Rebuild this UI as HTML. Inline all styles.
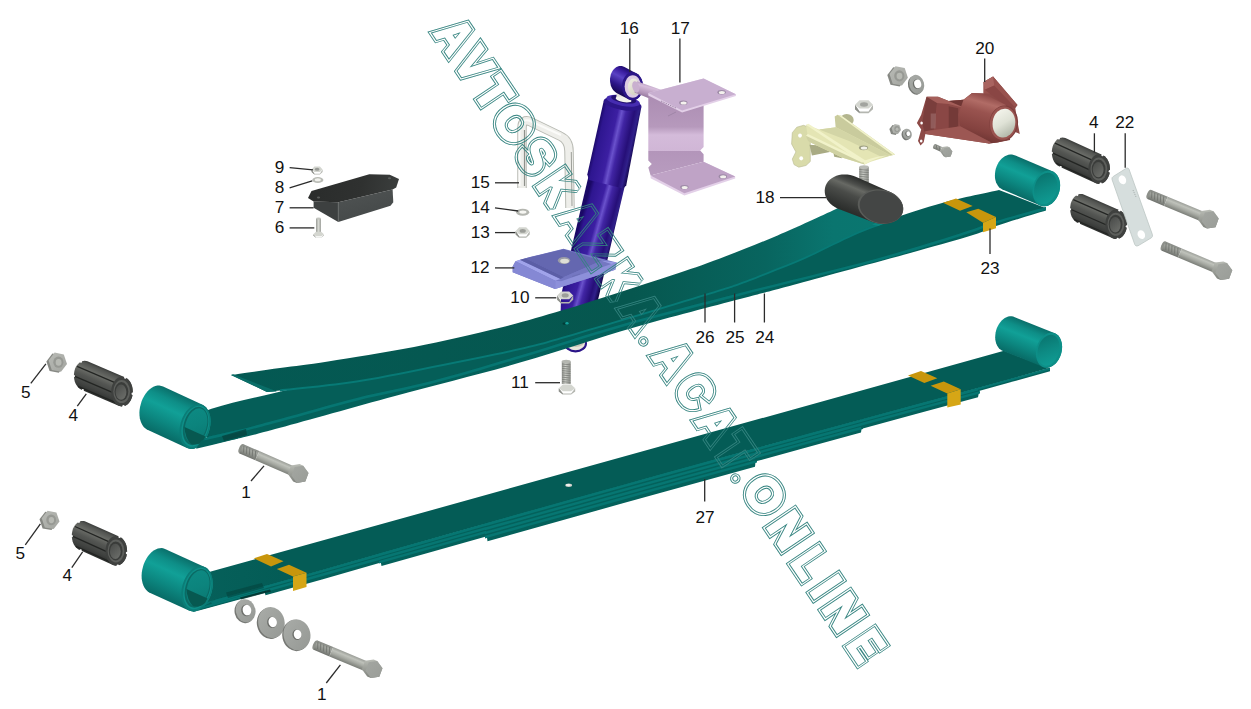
<!DOCTYPE html>
<html><head><meta charset="utf-8"><title>diagram</title>
<style>
html,body{margin:0;padding:0;background:#fff;}
body{width:1251px;height:709px;overflow:hidden;font-family:"Liberation Sans",sans-serif;}
svg{display:block;}
svg text{font-family:"Liberation Sans",sans-serif;fill:#111;}
</style></head><body>
<svg width="1251" height="709" viewBox="0 0 1251 709">
<defs>
<linearGradient id="g1" gradientUnits="userSpaceOnUse" x1="200" y1="0" x2="1050" y2="0"><stop offset="0" stop-color="#06605a"/><stop offset="0.1" stop-color="#045c56"/><stop offset="1" stop-color="#045c56"/></linearGradient>
<linearGradient id="g2" gradientUnits="userSpaceOnUse" x1="186.8" y1="558.7" x2="167.6" y2="600.9"><stop offset="0" stop-color="#0a6f6a"/><stop offset="0.2" stop-color="#0e8e87"/><stop offset="0.4" stop-color="#11a097"/><stop offset="0.7" stop-color="#0c8780"/><stop offset="1" stop-color="#086b66"/></linearGradient>
<linearGradient id="g3" gradientUnits="userSpaceOnUse" x1="185" y1="570" x2="209" y2="605"><stop offset="0" stop-color="#0d8b84"/><stop offset="0.5" stop-color="#0c847d"/><stop offset="1" stop-color="#0a7670"/></linearGradient>
<linearGradient id="g4" gradientUnits="userSpaceOnUse" x1="1035.3" y1="325.4" x2="1022" y2="358.6"><stop offset="0" stop-color="#0a6f6a"/><stop offset="0.2" stop-color="#0e8e87"/><stop offset="0.4" stop-color="#11a097"/><stop offset="0.7" stop-color="#0c8780"/><stop offset="1" stop-color="#086b66"/></linearGradient>
<linearGradient id="g5" gradientUnits="userSpaceOnUse" x1="1037" y1="335" x2="1060" y2="365"><stop offset="0" stop-color="#08706a"/><stop offset="0.5" stop-color="#0d8a83"/><stop offset="1" stop-color="#10a198"/></linearGradient>
<linearGradient id="g6" gradientUnits="userSpaceOnUse" x1="582" y1="215" x2="618" y2="225"><stop offset="0" stop-color="#1a0866"/><stop offset="0.1" stop-color="#2e1690"/><stop offset="0.4" stop-color="#3c1fa2"/><stop offset="0.5" stop-color="#6a52cc"/><stop offset="0.6" stop-color="#4125a4"/><stop offset="0.8" stop-color="#260f78"/><stop offset="0.9" stop-color="#30208a"/><stop offset="1" stop-color="#12054a"/></linearGradient>
<linearGradient id="g7" gradientUnits="userSpaceOnUse" x1="594.5" y1="140" x2="634.5" y2="149"><stop offset="0" stop-color="#1a0866"/><stop offset="0.1" stop-color="#2e1690"/><stop offset="0.4" stop-color="#3c1fa2"/><stop offset="0.5" stop-color="#6a52cc"/><stop offset="0.6" stop-color="#4125a4"/><stop offset="0.8" stop-color="#260f78"/><stop offset="0.9" stop-color="#30208a"/><stop offset="1" stop-color="#12054a"/></linearGradient>
<linearGradient id="g8" gradientUnits="userSpaceOnUse" x1="633" y1="70.8" x2="620" y2="95.5"><stop offset="0" stop-color="#1a0866"/><stop offset="0.2" stop-color="#3c1fa2"/><stop offset="0.4" stop-color="#5a42c4"/><stop offset="0.7" stop-color="#2c1688"/><stop offset="1" stop-color="#14064e"/></linearGradient>
<linearGradient id="g9" gradientUnits="userSpaceOnUse" x1="628" y1="78" x2="640" y2="96"><stop offset="0" stop-color="#f2f1e6"/><stop offset="1" stop-color="#cfcdbd"/></linearGradient>
<linearGradient id="g10" gradientUnits="userSpaceOnUse" x1="647" y1="82" x2="643" y2="97"><stop offset="0" stop-color="#a98cb2"/><stop offset="0.3" stop-color="#d6bedb"/><stop offset="0.7" stop-color="#b598bb"/><stop offset="1" stop-color="#93779b"/></linearGradient>
<linearGradient id="g11" gradientUnits="userSpaceOnUse" x1="0" y1="94" x2="0" y2="176"><stop offset="0" stop-color="#ab8cb2"/><stop offset="0.4" stop-color="#b699bc"/><stop offset="0.5" stop-color="#d4bbda"/><stop offset="0.7" stop-color="#d0b6d6"/><stop offset="0.7" stop-color="#b395ba"/><stop offset="1" stop-color="#b89cbf"/></linearGradient>
<linearGradient id="g12" gradientUnits="userSpaceOnUse" x1="231" y1="0" x2="900" y2="0"><stop offset="0" stop-color="#045953"/><stop offset="0.6" stop-color="#06574f"/><stop offset="0.8" stop-color="#08655f"/><stop offset="0.9" stop-color="#0a756f"/><stop offset="1" stop-color="#0a7770"/></linearGradient>
<linearGradient id="g13" gradientUnits="userSpaceOnUse" x1="184.7" y1="396.4" x2="165.3" y2="438.1"><stop offset="0" stop-color="#0a6f6a"/><stop offset="0.2" stop-color="#0e8e87"/><stop offset="0.4" stop-color="#11a097"/><stop offset="0.7" stop-color="#0c8780"/><stop offset="1" stop-color="#086b66"/></linearGradient>
<linearGradient id="g14" gradientUnits="userSpaceOnUse" x1="183" y1="408" x2="207" y2="443"><stop offset="0" stop-color="#0d8b84"/><stop offset="0.5" stop-color="#0c847d"/><stop offset="1" stop-color="#0a7670"/></linearGradient>
<linearGradient id="g15" gradientUnits="userSpaceOnUse" x1="1034.6" y1="163.7" x2="1020.4" y2="197.1"><stop offset="0" stop-color="#0a6f6a"/><stop offset="0.2" stop-color="#0e8e87"/><stop offset="0.4" stop-color="#11a097"/><stop offset="0.7" stop-color="#0c8780"/><stop offset="1" stop-color="#086b66"/></linearGradient>
<linearGradient id="g16" gradientUnits="userSpaceOnUse" x1="1034" y1="174" x2="1058" y2="204"><stop offset="0" stop-color="#08706a"/><stop offset="0.5" stop-color="#0d8a83"/><stop offset="1" stop-color="#10a198"/></linearGradient>
<linearGradient id="g17" gradientUnits="userSpaceOnUse" x1="338" y1="200" x2="345" y2="225"><stop offset="0" stop-color="#4d5151"/><stop offset="1" stop-color="#454949"/></linearGradient>
<linearGradient id="g18" gradientUnits="userSpaceOnUse" x1="310" y1="180" x2="395" y2="195"><stop offset="0" stop-color="#2a2c2b"/><stop offset="0.6" stop-color="#2f3130"/><stop offset="1" stop-color="#3a3d3c"/></linearGradient>
<linearGradient id="g19" gradientUnits="userSpaceOnUse" x1="316" y1="0" x2="321" y2="0"><stop offset="0" stop-color="#9a9c97"/><stop offset="0.5" stop-color="#d6d8d2"/><stop offset="1" stop-color="#a0a29d"/></linearGradient>
<linearGradient id="g20" gradientUnits="userSpaceOnUse" x1="47.6" y1="352" x2="68" y2="372.4"><stop offset="0" stop-color="#b9bbb6"/><stop offset="1" stop-color="#a2a49f"/></linearGradient>
<linearGradient id="g21" gradientUnits="userSpaceOnUse" x1="109.2" y1="370" x2="97.5" y2="397.2"><stop offset="0" stop-color="#343634"/><stop offset="0.1" stop-color="#525451"/><stop offset="0.3" stop-color="#6c6e69"/><stop offset="0.5" stop-color="#535552"/><stop offset="0.8" stop-color="#404240"/><stop offset="1" stop-color="#2c2e2c"/></linearGradient>
<linearGradient id="g22" gradientUnits="userSpaceOnUse" x1="116" y1="385.6" x2="128" y2="397.6"><stop offset="0" stop-color="#4a4c4a"/><stop offset="1" stop-color="#6e706c"/></linearGradient>
<linearGradient id="g23" gradientUnits="userSpaceOnUse" x1="40.8" y1="510.1" x2="60.4" y2="529.7"><stop offset="0" stop-color="#b9bbb6"/><stop offset="1" stop-color="#a2a49f"/></linearGradient>
<linearGradient id="g24" gradientUnits="userSpaceOnUse" x1="105.5" y1="529.8" x2="93.4" y2="556.8"><stop offset="0" stop-color="#343634"/><stop offset="0.1" stop-color="#525451"/><stop offset="0.3" stop-color="#6c6e69"/><stop offset="0.5" stop-color="#535552"/><stop offset="0.8" stop-color="#404240"/><stop offset="1" stop-color="#2c2e2c"/></linearGradient>
<linearGradient id="g25" gradientUnits="userSpaceOnUse" x1="110.3" y1="544.9" x2="122.3" y2="556.9"><stop offset="0" stop-color="#4a4c4a"/><stop offset="1" stop-color="#6e706c"/></linearGradient>
<linearGradient id="g26" gradientUnits="userSpaceOnUse" x1="243.5" y1="444.2" x2="239.5" y2="453.4"><stop offset="0" stop-color="#9a9d97"/><stop offset="0.3" stop-color="#bfc2bb"/><stop offset="0.6" stop-color="#a7aaa3"/><stop offset="1" stop-color="#7d807a"/></linearGradient>
<linearGradient id="g27" gradientUnits="userSpaceOnUse" x1="243.5" y1="444.2" x2="239.5" y2="453.4"><stop offset="0" stop-color="#858883"/><stop offset="0.3" stop-color="#a3a6a0"/><stop offset="0.7" stop-color="#8b8e88"/><stop offset="1" stop-color="#6f726d"/></linearGradient>
<linearGradient id="g28" gradientUnits="userSpaceOnUse" x1="300" y1="465" x2="300" y2="483.6"><stop offset="0" stop-color="#b7bab3"/><stop offset="1" stop-color="#7c7f79"/></linearGradient>
<linearGradient id="g29" gradientUnits="userSpaceOnUse" x1="290.7" y1="465" x2="309.3" y2="483.6"><stop offset="0" stop-color="#a4a7a2"/><stop offset="1" stop-color="#999c97"/></linearGradient>
<linearGradient id="g30" gradientUnits="userSpaceOnUse" x1="317.4" y1="640.6" x2="313.6" y2="649.8"><stop offset="0" stop-color="#9a9d97"/><stop offset="0.3" stop-color="#bfc2bb"/><stop offset="0.6" stop-color="#a7aaa3"/><stop offset="1" stop-color="#7d807a"/></linearGradient>
<linearGradient id="g31" gradientUnits="userSpaceOnUse" x1="317.4" y1="640.6" x2="313.6" y2="649.8"><stop offset="0" stop-color="#858883"/><stop offset="0.3" stop-color="#a3a6a0"/><stop offset="0.7" stop-color="#8b8e88"/><stop offset="1" stop-color="#6f726d"/></linearGradient>
<linearGradient id="g32" gradientUnits="userSpaceOnUse" x1="374" y1="660.2" x2="374" y2="678.8"><stop offset="0" stop-color="#b7bab3"/><stop offset="1" stop-color="#7c7f79"/></linearGradient>
<linearGradient id="g33" gradientUnits="userSpaceOnUse" x1="364.7" y1="660.2" x2="383.3" y2="678.8"><stop offset="0" stop-color="#a4a7a2"/><stop offset="1" stop-color="#999c97"/></linearGradient>
<linearGradient id="g34" gradientUnits="userSpaceOnUse" x1="235.9" y1="599.1" x2="255.5" y2="622.3"><stop offset="0" stop-color="#a9aca8"/><stop offset="1" stop-color="#959894"/></linearGradient>
<linearGradient id="g35" gradientUnits="userSpaceOnUse" x1="258.2" y1="607" x2="284.6" y2="638.2"><stop offset="0" stop-color="#a9aca8"/><stop offset="1" stop-color="#959894"/></linearGradient>
<linearGradient id="g36" gradientUnits="userSpaceOnUse" x1="283.6" y1="619.1" x2="310.4" y2="650.3"><stop offset="0" stop-color="#a9aca8"/><stop offset="1" stop-color="#959894"/></linearGradient>
<linearGradient id="g37" gradientUnits="userSpaceOnUse" x1="561.8" y1="0" x2="570.7" y2="0"><stop offset="0" stop-color="#8e908b"/><stop offset="0.4" stop-color="#cdcfc9"/><stop offset="1" stop-color="#8c8e89"/></linearGradient>
<linearGradient id="g38" gradientUnits="userSpaceOnUse" x1="859" y1="0" x2="869" y2="0"><stop offset="0" stop-color="#8e908b"/><stop offset="0.4" stop-color="#c9cbc5"/><stop offset="1" stop-color="#8a8c87"/></linearGradient>
<linearGradient id="g39" gradientUnits="userSpaceOnUse" x1="870.4" y1="183" x2="856.6" y2="216.2"><stop offset="0" stop-color="#2b2d2b"/><stop offset="0.2" stop-color="#4d4f4c"/><stop offset="0.3" stop-color="#676964"/><stop offset="0.5" stop-color="#4a4c49"/><stop offset="0.8" stop-color="#363836"/><stop offset="1" stop-color="#2a2c2a"/></linearGradient>
<linearGradient id="g40" gradientUnits="userSpaceOnUse" x1="888.5" y1="65.7" x2="908.9" y2="86.1"><stop offset="0" stop-color="#b9bbb6"/><stop offset="1" stop-color="#a2a49f"/></linearGradient>
<linearGradient id="g41" gradientUnits="userSpaceOnUse" x1="909.3" y1="74.7" x2="924.1" y2="93.9"><stop offset="0" stop-color="#a9aca8"/><stop offset="1" stop-color="#959894"/></linearGradient>
<linearGradient id="g42" gradientUnits="userSpaceOnUse" x1="891.1" y1="123.8" x2="901.5" y2="134.2"><stop offset="0" stop-color="#b9bbb6"/><stop offset="1" stop-color="#a2a49f"/></linearGradient>
<linearGradient id="g43" gradientUnits="userSpaceOnUse" x1="902.9" y1="128.6" x2="911.7" y2="139.4"><stop offset="0" stop-color="#a9aca8"/><stop offset="1" stop-color="#959894"/></linearGradient>
<linearGradient id="g44" gradientUnits="userSpaceOnUse" x1="935.5" y1="144" x2="933.5" y2="148.6"><stop offset="0" stop-color="#9a9d97"/><stop offset="0.3" stop-color="#bfc2bb"/><stop offset="0.6" stop-color="#a7aaa3"/><stop offset="1" stop-color="#7d807a"/></linearGradient>
<linearGradient id="g45" gradientUnits="userSpaceOnUse" x1="935.5" y1="144" x2="933.5" y2="148.6"><stop offset="0" stop-color="#858883"/><stop offset="0.3" stop-color="#a3a6a0"/><stop offset="0.7" stop-color="#8b8e88"/><stop offset="1" stop-color="#6f726d"/></linearGradient>
<linearGradient id="g46" gradientUnits="userSpaceOnUse" x1="947.5" y1="146.8" x2="947.5" y2="157.6"><stop offset="0" stop-color="#b7bab3"/><stop offset="1" stop-color="#7c7f79"/></linearGradient>
<linearGradient id="g47" gradientUnits="userSpaceOnUse" x1="942.1" y1="146.8" x2="952.9" y2="157.6"><stop offset="0" stop-color="#a4a7a2"/><stop offset="1" stop-color="#999c97"/></linearGradient>
<linearGradient id="g48" gradientUnits="userSpaceOnUse" x1="984.7" y1="93.5" x2="972" y2="137.9"><stop offset="0" stop-color="#8a4644"/><stop offset="0.2" stop-color="#b16c66"/><stop offset="0.4" stop-color="#99534f"/><stop offset="0.8" stop-color="#84423f"/><stop offset="1" stop-color="#6f3533"/></linearGradient>
<linearGradient id="g49" gradientUnits="userSpaceOnUse" x1="993.7" y1="111.1" x2="1013.7" y2="135.1"><stop offset="0" stop-color="#f6f6ee"/><stop offset="0.5" stop-color="#dfe2d6"/><stop offset="1" stop-color="#aab0a2"/></linearGradient>
<linearGradient id="g50" gradientUnits="userSpaceOnUse" x1="1087" y1="147.3" x2="1074.8" y2="174.2"><stop offset="0" stop-color="#343634"/><stop offset="0.1" stop-color="#525451"/><stop offset="0.3" stop-color="#6c6e69"/><stop offset="0.5" stop-color="#535552"/><stop offset="0.8" stop-color="#404240"/><stop offset="1" stop-color="#2c2e2c"/></linearGradient>
<linearGradient id="g51" gradientUnits="userSpaceOnUse" x1="1093.2" y1="163.1" x2="1105.2" y2="175.1"><stop offset="0" stop-color="#4a4c4a"/><stop offset="1" stop-color="#6e706c"/></linearGradient>
<linearGradient id="g52" gradientUnits="userSpaceOnUse" x1="1104.5" y1="203" x2="1092.6" y2="230.1"><stop offset="0" stop-color="#343634"/><stop offset="0.1" stop-color="#525451"/><stop offset="0.3" stop-color="#6c6e69"/><stop offset="0.5" stop-color="#535552"/><stop offset="0.8" stop-color="#404240"/><stop offset="1" stop-color="#2c2e2c"/></linearGradient>
<linearGradient id="g53" gradientUnits="userSpaceOnUse" x1="1110.2" y1="218.3" x2="1122.2" y2="230.3"><stop offset="0" stop-color="#4a4c4a"/><stop offset="1" stop-color="#6e706c"/></linearGradient>
<linearGradient id="g54" gradientUnits="userSpaceOnUse" x1="1151.4" y1="189.9" x2="1147.6" y2="199.1"><stop offset="0" stop-color="#9a9d97"/><stop offset="0.3" stop-color="#bfc2bb"/><stop offset="0.6" stop-color="#a7aaa3"/><stop offset="1" stop-color="#7d807a"/></linearGradient>
<linearGradient id="g55" gradientUnits="userSpaceOnUse" x1="1151.4" y1="189.9" x2="1147.6" y2="199.1"><stop offset="0" stop-color="#858883"/><stop offset="0.3" stop-color="#a3a6a0"/><stop offset="0.7" stop-color="#8b8e88"/><stop offset="1" stop-color="#6f726d"/></linearGradient>
<linearGradient id="g56" gradientUnits="userSpaceOnUse" x1="1210.2" y1="210.6" x2="1210.2" y2="229.2"><stop offset="0" stop-color="#b7bab3"/><stop offset="1" stop-color="#7c7f79"/></linearGradient>
<linearGradient id="g57" gradientUnits="userSpaceOnUse" x1="1200.9" y1="210.6" x2="1219.5" y2="229.2"><stop offset="0" stop-color="#a4a7a2"/><stop offset="1" stop-color="#999c97"/></linearGradient>
<linearGradient id="g58" gradientUnits="userSpaceOnUse" x1="1165.6" y1="241.5" x2="1161.8" y2="250.7"><stop offset="0" stop-color="#9a9d97"/><stop offset="0.3" stop-color="#bfc2bb"/><stop offset="0.6" stop-color="#a7aaa3"/><stop offset="1" stop-color="#7d807a"/></linearGradient>
<linearGradient id="g59" gradientUnits="userSpaceOnUse" x1="1165.6" y1="241.5" x2="1161.8" y2="250.7"><stop offset="0" stop-color="#858883"/><stop offset="0.3" stop-color="#a3a6a0"/><stop offset="0.7" stop-color="#8b8e88"/><stop offset="1" stop-color="#6f726d"/></linearGradient>
<linearGradient id="g60" gradientUnits="userSpaceOnUse" x1="1223.8" y1="262.2" x2="1223.8" y2="280.8"><stop offset="0" stop-color="#b7bab3"/><stop offset="1" stop-color="#7c7f79"/></linearGradient>
<linearGradient id="g61" gradientUnits="userSpaceOnUse" x1="1214.5" y1="262.2" x2="1233.1" y2="280.8"><stop offset="0" stop-color="#a4a7a2"/><stop offset="1" stop-color="#999c97"/></linearGradient>
<mask id="wm0" maskUnits="userSpaceOnUse" x="0" y="0" width="1251" height="709"><g transform="translate(432.1 31.1) rotate(56)"><text x="0" y="0" text-anchor="middle" transform="translate(17 0) scale(0.86 1)" font-family="Liberation Sans, sans-serif" font-weight="bold" font-size="47" style="fill:#fff" stroke="#fff" stroke-width="8.8" stroke-linejoin="miter" stroke-miterlimit="2.2">A</text><text x="0" y="0" text-anchor="middle" transform="translate(86.2 0) scale(0.9 1)" font-family="Liberation Sans, sans-serif" font-weight="bold" font-size="47" style="fill:#fff" stroke="#fff" stroke-width="8.8" stroke-linejoin="miter" stroke-miterlimit="2.2">T</text><text x="0" y="0" text-anchor="middle" transform="translate(161.9 0) scale(0.92 1)" font-family="Liberation Sans, sans-serif" font-weight="bold" font-size="47" style="fill:#fff" stroke="#fff" stroke-width="8.8" stroke-linejoin="miter" stroke-miterlimit="2.2">S</text><text x="0" y="0" text-anchor="middle" transform="translate(238.5 0) scale(0.86 1)" font-family="Liberation Sans, sans-serif" font-weight="bold" font-size="47" style="fill:#fff" stroke="#fff" stroke-width="8.8" stroke-linejoin="miter" stroke-miterlimit="2.2">A</text><text x="0" y="0" text-anchor="middle" transform="translate(311.1 0) scale(0.84 1)" font-family="Liberation Sans, sans-serif" font-weight="bold" font-size="47" style="fill:#fff" stroke="#fff" stroke-width="8.8" stroke-linejoin="miter" stroke-miterlimit="2.2">K</text><text x="0" y="0" text-anchor="middle" transform="translate(407 0) scale(0.86 1)" font-family="Liberation Sans, sans-serif" font-weight="bold" font-size="47" style="fill:#fff" stroke="#fff" stroke-width="8.8" stroke-linejoin="miter" stroke-miterlimit="2.2">A</text><text x="0" y="0" text-anchor="middle" transform="translate(484.8 0) scale(0.86 1)" font-family="Liberation Sans, sans-serif" font-weight="bold" font-size="47" style="fill:#fff" stroke="#fff" stroke-width="8.8" stroke-linejoin="miter" stroke-miterlimit="2.2">A</text><text x="0" y="0" text-anchor="middle" transform="translate(570.3 0) scale(1.0 1)" font-family="Liberation Sans, sans-serif" font-weight="bold" font-size="47" style="fill:#fff" stroke="#fff" stroke-width="8.8" stroke-linejoin="miter" stroke-miterlimit="2.2">O</text><text x="0" y="0" text-anchor="middle" transform="translate(652.3 0) scale(0.84 1)" font-family="Liberation Sans, sans-serif" font-weight="bold" font-size="47" style="fill:#fff" stroke="#fff" stroke-width="8.8" stroke-linejoin="miter" stroke-miterlimit="2.2">L</text><text x="0" y="0" text-anchor="middle" transform="translate(712 0) scale(0.95 1)" font-family="Liberation Sans, sans-serif" font-weight="bold" font-size="47" style="fill:#fff" stroke="#fff" stroke-width="8.8" stroke-linejoin="miter" stroke-miterlimit="2.2">N</text><circle cx="375.4" cy="-1.6" r="5.2" fill="#fff"/><circle cx="540.5" cy="-1.2" r="5.2" fill="#fff"/><text x="0" y="0" text-anchor="middle" transform="translate(17 0) scale(0.86 1)" font-family="Liberation Sans, sans-serif" font-weight="bold" font-size="47" style="fill:#000" stroke="#000" stroke-width="7.1" stroke-linejoin="miter" stroke-miterlimit="2.2">A</text><text x="0" y="0" text-anchor="middle" transform="translate(86.2 0) scale(0.9 1)" font-family="Liberation Sans, sans-serif" font-weight="bold" font-size="47" style="fill:#000" stroke="#000" stroke-width="7.1" stroke-linejoin="miter" stroke-miterlimit="2.2">T</text><text x="0" y="0" text-anchor="middle" transform="translate(161.9 0) scale(0.92 1)" font-family="Liberation Sans, sans-serif" font-weight="bold" font-size="47" style="fill:#000" stroke="#000" stroke-width="7.1" stroke-linejoin="miter" stroke-miterlimit="2.2">S</text><text x="0" y="0" text-anchor="middle" transform="translate(238.5 0) scale(0.86 1)" font-family="Liberation Sans, sans-serif" font-weight="bold" font-size="47" style="fill:#000" stroke="#000" stroke-width="7.1" stroke-linejoin="miter" stroke-miterlimit="2.2">A</text><text x="0" y="0" text-anchor="middle" transform="translate(311.1 0) scale(0.84 1)" font-family="Liberation Sans, sans-serif" font-weight="bold" font-size="47" style="fill:#000" stroke="#000" stroke-width="7.1" stroke-linejoin="miter" stroke-miterlimit="2.2">K</text><text x="0" y="0" text-anchor="middle" transform="translate(407 0) scale(0.86 1)" font-family="Liberation Sans, sans-serif" font-weight="bold" font-size="47" style="fill:#000" stroke="#000" stroke-width="7.1" stroke-linejoin="miter" stroke-miterlimit="2.2">A</text><text x="0" y="0" text-anchor="middle" transform="translate(484.8 0) scale(0.86 1)" font-family="Liberation Sans, sans-serif" font-weight="bold" font-size="47" style="fill:#000" stroke="#000" stroke-width="7.1" stroke-linejoin="miter" stroke-miterlimit="2.2">A</text><text x="0" y="0" text-anchor="middle" transform="translate(570.3 0) scale(1.0 1)" font-family="Liberation Sans, sans-serif" font-weight="bold" font-size="47" style="fill:#000" stroke="#000" stroke-width="7.1" stroke-linejoin="miter" stroke-miterlimit="2.2">O</text><text x="0" y="0" text-anchor="middle" transform="translate(652.3 0) scale(0.84 1)" font-family="Liberation Sans, sans-serif" font-weight="bold" font-size="47" style="fill:#000" stroke="#000" stroke-width="7.1" stroke-linejoin="miter" stroke-miterlimit="2.2">L</text><text x="0" y="0" text-anchor="middle" transform="translate(712 0) scale(0.95 1)" font-family="Liberation Sans, sans-serif" font-weight="bold" font-size="47" style="fill:#000" stroke="#000" stroke-width="7.1" stroke-linejoin="miter" stroke-miterlimit="2.2">N</text><circle cx="375.4" cy="-1.6" r="4.3" fill="#000"/><circle cx="540.5" cy="-1.2" r="4.3" fill="#000"/><text x="0" y="0" text-anchor="middle" transform="translate(17 0) scale(0.86 1)" font-family="Liberation Sans, sans-serif" font-weight="bold" font-size="47" style="fill:#fff" stroke="#fff" stroke-width="4.3" stroke-linejoin="miter" stroke-miterlimit="2.2">A</text><text x="0" y="0" text-anchor="middle" transform="translate(86.2 0) scale(0.9 1)" font-family="Liberation Sans, sans-serif" font-weight="bold" font-size="47" style="fill:#fff" stroke="#fff" stroke-width="4.3" stroke-linejoin="miter" stroke-miterlimit="2.2">T</text><text x="0" y="0" text-anchor="middle" transform="translate(161.9 0) scale(0.92 1)" font-family="Liberation Sans, sans-serif" font-weight="bold" font-size="47" style="fill:#fff" stroke="#fff" stroke-width="4.3" stroke-linejoin="miter" stroke-miterlimit="2.2">S</text><text x="0" y="0" text-anchor="middle" transform="translate(238.5 0) scale(0.86 1)" font-family="Liberation Sans, sans-serif" font-weight="bold" font-size="47" style="fill:#fff" stroke="#fff" stroke-width="4.3" stroke-linejoin="miter" stroke-miterlimit="2.2">A</text><text x="0" y="0" text-anchor="middle" transform="translate(311.1 0) scale(0.84 1)" font-family="Liberation Sans, sans-serif" font-weight="bold" font-size="47" style="fill:#fff" stroke="#fff" stroke-width="4.3" stroke-linejoin="miter" stroke-miterlimit="2.2">K</text><text x="0" y="0" text-anchor="middle" transform="translate(407 0) scale(0.86 1)" font-family="Liberation Sans, sans-serif" font-weight="bold" font-size="47" style="fill:#fff" stroke="#fff" stroke-width="4.3" stroke-linejoin="miter" stroke-miterlimit="2.2">A</text><text x="0" y="0" text-anchor="middle" transform="translate(484.8 0) scale(0.86 1)" font-family="Liberation Sans, sans-serif" font-weight="bold" font-size="47" style="fill:#fff" stroke="#fff" stroke-width="4.3" stroke-linejoin="miter" stroke-miterlimit="2.2">A</text><text x="0" y="0" text-anchor="middle" transform="translate(570.3 0) scale(1.0 1)" font-family="Liberation Sans, sans-serif" font-weight="bold" font-size="47" style="fill:#fff" stroke="#fff" stroke-width="4.3" stroke-linejoin="miter" stroke-miterlimit="2.2">O</text><text x="0" y="0" text-anchor="middle" transform="translate(652.3 0) scale(0.84 1)" font-family="Liberation Sans, sans-serif" font-weight="bold" font-size="47" style="fill:#fff" stroke="#fff" stroke-width="4.3" stroke-linejoin="miter" stroke-miterlimit="2.2">L</text><text x="0" y="0" text-anchor="middle" transform="translate(712 0) scale(0.95 1)" font-family="Liberation Sans, sans-serif" font-weight="bold" font-size="47" style="fill:#fff" stroke="#fff" stroke-width="4.3" stroke-linejoin="miter" stroke-miterlimit="2.2">N</text><circle cx="375.4" cy="-1.6" r="3" fill="#fff"/><circle cx="540.5" cy="-1.2" r="3" fill="#fff"/><text x="0" y="0" text-anchor="middle" transform="translate(17 0) scale(0.86 1)" font-family="Liberation Sans, sans-serif" font-weight="bold" font-size="47" style="fill:#000" stroke="#000" stroke-width="2.6" stroke-linejoin="miter" stroke-miterlimit="2.2">A</text><text x="0" y="0" text-anchor="middle" transform="translate(86.2 0) scale(0.9 1)" font-family="Liberation Sans, sans-serif" font-weight="bold" font-size="47" style="fill:#000" stroke="#000" stroke-width="2.6" stroke-linejoin="miter" stroke-miterlimit="2.2">T</text><text x="0" y="0" text-anchor="middle" transform="translate(161.9 0) scale(0.92 1)" font-family="Liberation Sans, sans-serif" font-weight="bold" font-size="47" style="fill:#000" stroke="#000" stroke-width="2.6" stroke-linejoin="miter" stroke-miterlimit="2.2">S</text><text x="0" y="0" text-anchor="middle" transform="translate(238.5 0) scale(0.86 1)" font-family="Liberation Sans, sans-serif" font-weight="bold" font-size="47" style="fill:#000" stroke="#000" stroke-width="2.6" stroke-linejoin="miter" stroke-miterlimit="2.2">A</text><text x="0" y="0" text-anchor="middle" transform="translate(311.1 0) scale(0.84 1)" font-family="Liberation Sans, sans-serif" font-weight="bold" font-size="47" style="fill:#000" stroke="#000" stroke-width="2.6" stroke-linejoin="miter" stroke-miterlimit="2.2">K</text><text x="0" y="0" text-anchor="middle" transform="translate(407 0) scale(0.86 1)" font-family="Liberation Sans, sans-serif" font-weight="bold" font-size="47" style="fill:#000" stroke="#000" stroke-width="2.6" stroke-linejoin="miter" stroke-miterlimit="2.2">A</text><text x="0" y="0" text-anchor="middle" transform="translate(484.8 0) scale(0.86 1)" font-family="Liberation Sans, sans-serif" font-weight="bold" font-size="47" style="fill:#000" stroke="#000" stroke-width="2.6" stroke-linejoin="miter" stroke-miterlimit="2.2">A</text><text x="0" y="0" text-anchor="middle" transform="translate(570.3 0) scale(1.0 1)" font-family="Liberation Sans, sans-serif" font-weight="bold" font-size="47" style="fill:#000" stroke="#000" stroke-width="2.6" stroke-linejoin="miter" stroke-miterlimit="2.2">O</text><text x="0" y="0" text-anchor="middle" transform="translate(652.3 0) scale(0.84 1)" font-family="Liberation Sans, sans-serif" font-weight="bold" font-size="47" style="fill:#000" stroke="#000" stroke-width="2.6" stroke-linejoin="miter" stroke-miterlimit="2.2">L</text><text x="0" y="0" text-anchor="middle" transform="translate(712 0) scale(0.95 1)" font-family="Liberation Sans, sans-serif" font-weight="bold" font-size="47" style="fill:#000" stroke="#000" stroke-width="2.6" stroke-linejoin="miter" stroke-miterlimit="2.2">N</text><circle cx="375.4" cy="-1.6" r="2.1" fill="#000"/><circle cx="540.5" cy="-1.2" r="2.1" fill="#000"/></g></mask>
<mask id="wm1" maskUnits="userSpaceOnUse" x="0" y="0" width="1251" height="709"><g transform="translate(432.1 31.1) rotate(56)"><text x="0" y="0" text-anchor="middle" transform="translate(51.1 0) scale(0.88 1)" font-family="Liberation Sans, sans-serif" font-weight="bold" font-size="47" style="fill:#fff" stroke="#fff" stroke-width="8.8" stroke-linejoin="miter" stroke-miterlimit="2.2">V</text><text x="0" y="0" text-anchor="middle" transform="translate(123 0) scale(1.0 1)" font-family="Liberation Sans, sans-serif" font-weight="bold" font-size="47" style="fill:#fff" stroke="#fff" stroke-width="8.8" stroke-linejoin="miter" stroke-miterlimit="2.2">O</text><text x="0" y="0" text-anchor="middle" transform="translate(199.6 0) scale(0.84 1)" font-family="Liberation Sans, sans-serif" font-weight="bold" font-size="47" style="fill:#fff" stroke="#fff" stroke-width="8.8" stroke-linejoin="miter" stroke-miterlimit="2.2">K</text><text x="0" y="0" text-anchor="middle" transform="translate(274.8 0) scale(0.9 1)" font-family="Liberation Sans, sans-serif" font-weight="bold" font-size="47" style="fill:#fff" stroke="#fff" stroke-width="8.8" stroke-linejoin="miter" stroke-miterlimit="2.2">Z</text><text x="0" y="0" text-anchor="middle" transform="translate(350.1 0) scale(0.86 1)" font-family="Liberation Sans, sans-serif" font-weight="bold" font-size="47" style="fill:#fff" stroke="#fff" stroke-width="8.8" stroke-linejoin="miter" stroke-miterlimit="2.2">A</text><text x="0" y="0" text-anchor="middle" transform="translate(445.9 0) scale(0.9 1)" font-family="Liberation Sans, sans-serif" font-weight="bold" font-size="47" style="fill:#fff" stroke="#fff" stroke-width="8.8" stroke-linejoin="miter" stroke-miterlimit="2.2">C</text><text x="0" y="0" text-anchor="middle" transform="translate(517.7 0) scale(0.9 1)" font-family="Liberation Sans, sans-serif" font-weight="bold" font-size="47" style="fill:#fff" stroke="#fff" stroke-width="8.8" stroke-linejoin="miter" stroke-miterlimit="2.2">T</text><text x="0" y="0" text-anchor="middle" transform="translate(613.2 0) scale(0.95 1)" font-family="Liberation Sans, sans-serif" font-weight="bold" font-size="47" style="fill:#fff" stroke="#fff" stroke-width="8.8" stroke-linejoin="miter" stroke-miterlimit="2.2">N</text><text x="0" y="0" text-anchor="middle" transform="translate(680.9 0) scale(0.9 1)" font-family="Liberation Sans, sans-serif" font-weight="bold" font-size="47" style="fill:#fff" stroke="#fff" stroke-width="8.8" stroke-linejoin="miter" stroke-miterlimit="2.2">I</text><text x="0" y="0" text-anchor="middle" transform="translate(752.4 0) scale(0.8 1)" font-family="Liberation Sans, sans-serif" font-weight="bold" font-size="47" style="fill:#fff" stroke="#fff" stroke-width="8.8" stroke-linejoin="miter" stroke-miterlimit="2.2">E</text><text x="0" y="0" text-anchor="middle" transform="translate(51.1 0) scale(0.88 1)" font-family="Liberation Sans, sans-serif" font-weight="bold" font-size="47" style="fill:#000" stroke="#000" stroke-width="7.1" stroke-linejoin="miter" stroke-miterlimit="2.2">V</text><text x="0" y="0" text-anchor="middle" transform="translate(123 0) scale(1.0 1)" font-family="Liberation Sans, sans-serif" font-weight="bold" font-size="47" style="fill:#000" stroke="#000" stroke-width="7.1" stroke-linejoin="miter" stroke-miterlimit="2.2">O</text><text x="0" y="0" text-anchor="middle" transform="translate(199.6 0) scale(0.84 1)" font-family="Liberation Sans, sans-serif" font-weight="bold" font-size="47" style="fill:#000" stroke="#000" stroke-width="7.1" stroke-linejoin="miter" stroke-miterlimit="2.2">K</text><text x="0" y="0" text-anchor="middle" transform="translate(274.8 0) scale(0.9 1)" font-family="Liberation Sans, sans-serif" font-weight="bold" font-size="47" style="fill:#000" stroke="#000" stroke-width="7.1" stroke-linejoin="miter" stroke-miterlimit="2.2">Z</text><text x="0" y="0" text-anchor="middle" transform="translate(350.1 0) scale(0.86 1)" font-family="Liberation Sans, sans-serif" font-weight="bold" font-size="47" style="fill:#000" stroke="#000" stroke-width="7.1" stroke-linejoin="miter" stroke-miterlimit="2.2">A</text><text x="0" y="0" text-anchor="middle" transform="translate(445.9 0) scale(0.9 1)" font-family="Liberation Sans, sans-serif" font-weight="bold" font-size="47" style="fill:#000" stroke="#000" stroke-width="7.1" stroke-linejoin="miter" stroke-miterlimit="2.2">C</text><text x="0" y="0" text-anchor="middle" transform="translate(517.7 0) scale(0.9 1)" font-family="Liberation Sans, sans-serif" font-weight="bold" font-size="47" style="fill:#000" stroke="#000" stroke-width="7.1" stroke-linejoin="miter" stroke-miterlimit="2.2">T</text><text x="0" y="0" text-anchor="middle" transform="translate(613.2 0) scale(0.95 1)" font-family="Liberation Sans, sans-serif" font-weight="bold" font-size="47" style="fill:#000" stroke="#000" stroke-width="7.1" stroke-linejoin="miter" stroke-miterlimit="2.2">N</text><text x="0" y="0" text-anchor="middle" transform="translate(680.9 0) scale(0.9 1)" font-family="Liberation Sans, sans-serif" font-weight="bold" font-size="47" style="fill:#000" stroke="#000" stroke-width="7.1" stroke-linejoin="miter" stroke-miterlimit="2.2">I</text><text x="0" y="0" text-anchor="middle" transform="translate(752.4 0) scale(0.8 1)" font-family="Liberation Sans, sans-serif" font-weight="bold" font-size="47" style="fill:#000" stroke="#000" stroke-width="7.1" stroke-linejoin="miter" stroke-miterlimit="2.2">E</text><text x="0" y="0" text-anchor="middle" transform="translate(51.1 0) scale(0.88 1)" font-family="Liberation Sans, sans-serif" font-weight="bold" font-size="47" style="fill:#fff" stroke="#fff" stroke-width="4.3" stroke-linejoin="miter" stroke-miterlimit="2.2">V</text><text x="0" y="0" text-anchor="middle" transform="translate(123 0) scale(1.0 1)" font-family="Liberation Sans, sans-serif" font-weight="bold" font-size="47" style="fill:#fff" stroke="#fff" stroke-width="4.3" stroke-linejoin="miter" stroke-miterlimit="2.2">O</text><text x="0" y="0" text-anchor="middle" transform="translate(199.6 0) scale(0.84 1)" font-family="Liberation Sans, sans-serif" font-weight="bold" font-size="47" style="fill:#fff" stroke="#fff" stroke-width="4.3" stroke-linejoin="miter" stroke-miterlimit="2.2">K</text><text x="0" y="0" text-anchor="middle" transform="translate(274.8 0) scale(0.9 1)" font-family="Liberation Sans, sans-serif" font-weight="bold" font-size="47" style="fill:#fff" stroke="#fff" stroke-width="4.3" stroke-linejoin="miter" stroke-miterlimit="2.2">Z</text><text x="0" y="0" text-anchor="middle" transform="translate(350.1 0) scale(0.86 1)" font-family="Liberation Sans, sans-serif" font-weight="bold" font-size="47" style="fill:#fff" stroke="#fff" stroke-width="4.3" stroke-linejoin="miter" stroke-miterlimit="2.2">A</text><text x="0" y="0" text-anchor="middle" transform="translate(445.9 0) scale(0.9 1)" font-family="Liberation Sans, sans-serif" font-weight="bold" font-size="47" style="fill:#fff" stroke="#fff" stroke-width="4.3" stroke-linejoin="miter" stroke-miterlimit="2.2">C</text><text x="0" y="0" text-anchor="middle" transform="translate(517.7 0) scale(0.9 1)" font-family="Liberation Sans, sans-serif" font-weight="bold" font-size="47" style="fill:#fff" stroke="#fff" stroke-width="4.3" stroke-linejoin="miter" stroke-miterlimit="2.2">T</text><text x="0" y="0" text-anchor="middle" transform="translate(613.2 0) scale(0.95 1)" font-family="Liberation Sans, sans-serif" font-weight="bold" font-size="47" style="fill:#fff" stroke="#fff" stroke-width="4.3" stroke-linejoin="miter" stroke-miterlimit="2.2">N</text><text x="0" y="0" text-anchor="middle" transform="translate(680.9 0) scale(0.9 1)" font-family="Liberation Sans, sans-serif" font-weight="bold" font-size="47" style="fill:#fff" stroke="#fff" stroke-width="4.3" stroke-linejoin="miter" stroke-miterlimit="2.2">I</text><text x="0" y="0" text-anchor="middle" transform="translate(752.4 0) scale(0.8 1)" font-family="Liberation Sans, sans-serif" font-weight="bold" font-size="47" style="fill:#fff" stroke="#fff" stroke-width="4.3" stroke-linejoin="miter" stroke-miterlimit="2.2">E</text><text x="0" y="0" text-anchor="middle" transform="translate(51.1 0) scale(0.88 1)" font-family="Liberation Sans, sans-serif" font-weight="bold" font-size="47" style="fill:#000" stroke="#000" stroke-width="2.6" stroke-linejoin="miter" stroke-miterlimit="2.2">V</text><text x="0" y="0" text-anchor="middle" transform="translate(123 0) scale(1.0 1)" font-family="Liberation Sans, sans-serif" font-weight="bold" font-size="47" style="fill:#000" stroke="#000" stroke-width="2.6" stroke-linejoin="miter" stroke-miterlimit="2.2">O</text><text x="0" y="0" text-anchor="middle" transform="translate(199.6 0) scale(0.84 1)" font-family="Liberation Sans, sans-serif" font-weight="bold" font-size="47" style="fill:#000" stroke="#000" stroke-width="2.6" stroke-linejoin="miter" stroke-miterlimit="2.2">K</text><text x="0" y="0" text-anchor="middle" transform="translate(274.8 0) scale(0.9 1)" font-family="Liberation Sans, sans-serif" font-weight="bold" font-size="47" style="fill:#000" stroke="#000" stroke-width="2.6" stroke-linejoin="miter" stroke-miterlimit="2.2">Z</text><text x="0" y="0" text-anchor="middle" transform="translate(350.1 0) scale(0.86 1)" font-family="Liberation Sans, sans-serif" font-weight="bold" font-size="47" style="fill:#000" stroke="#000" stroke-width="2.6" stroke-linejoin="miter" stroke-miterlimit="2.2">A</text><text x="0" y="0" text-anchor="middle" transform="translate(445.9 0) scale(0.9 1)" font-family="Liberation Sans, sans-serif" font-weight="bold" font-size="47" style="fill:#000" stroke="#000" stroke-width="2.6" stroke-linejoin="miter" stroke-miterlimit="2.2">C</text><text x="0" y="0" text-anchor="middle" transform="translate(517.7 0) scale(0.9 1)" font-family="Liberation Sans, sans-serif" font-weight="bold" font-size="47" style="fill:#000" stroke="#000" stroke-width="2.6" stroke-linejoin="miter" stroke-miterlimit="2.2">T</text><text x="0" y="0" text-anchor="middle" transform="translate(613.2 0) scale(0.95 1)" font-family="Liberation Sans, sans-serif" font-weight="bold" font-size="47" style="fill:#000" stroke="#000" stroke-width="2.6" stroke-linejoin="miter" stroke-miterlimit="2.2">N</text><text x="0" y="0" text-anchor="middle" transform="translate(680.9 0) scale(0.9 1)" font-family="Liberation Sans, sans-serif" font-weight="bold" font-size="47" style="fill:#000" stroke="#000" stroke-width="2.6" stroke-linejoin="miter" stroke-miterlimit="2.2">I</text><text x="0" y="0" text-anchor="middle" transform="translate(752.4 0) scale(0.8 1)" font-family="Liberation Sans, sans-serif" font-weight="bold" font-size="47" style="fill:#000" stroke="#000" stroke-width="2.6" stroke-linejoin="miter" stroke-miterlimit="2.2">E</text></g></mask>
</defs>
<polygon points="200,574.6 1004,350.8 1049,368 1000,382.1 950,395.7 900,409.2 850,422.8 800,436.4 750,450.1 700,463.9 650,477.8 600,491.7 550,505.7 500,519.7 450,533.8 400,548 350,562.3 300,576.6 250,590.5 205,604.5" fill="url(#g1)" />
<polygon points="193,605.9 229,595.9 265,585.9 265,591.8 229,601.8 193,611.8" fill="#04615b" />
<polygon points="193,606 229,596 265,586 265,588.6 229,598.6 193,608.6" fill="#067672" />
<polygon points="263,586.4 322,569.8 381,553 381,562.6 322,579.4 265.5,595.3" fill="#04615b" />
<polygon points="263,586.5 322,569.9 381,553.1 381,555.7 322,572.5 263,589.1" fill="#067672" />
<polygon points="263,590.2 322,573.6 381,556.8 381,559.4 322,576.2 263,592.8" fill="#067672" />
<polygon points="379,553.5 433,538.2 487,522.9 487,536.2 433,551.5 381.5,566.1" fill="#04615b" />
<polygon points="379,553.6 433,538.3 487,523 487,525.6 433,540.9 379,556.2" fill="#067672" />
<polygon points="379,557.3 433,542 487,526.7 487,529.3 433,544.6 379,559.9" fill="#067672" />
<polygon points="379,561 433,545.7 487,530.4 487,533 433,548.3 379,563.6" fill="#067672" />
<polygon points="485,523.5 530.3,510.7 575.7,498 621,485.3 666.3,472.7 711.7,460.2 757,447.7 755,466.8 711.7,478.7 666.3,491.2 621,503.8 575.7,516.5 530.3,529.2 487.5,541.2" fill="#04615b" />
<polygon points="485,523.6 530.3,510.8 575.7,498.1 621,485.4 666.3,472.8 711.7,460.3 757,447.8 757,450.4 711.7,462.9 666.3,475.4 621,488 575.7,500.7 530.3,513.4 485,526.2" fill="#067672" />
<polygon points="485,527.6 530.3,514.9 575.7,502.2 621,489.5 666.3,476.9 711.7,464.4 757,451.9 757,454.5 711.7,467 666.3,479.5 621,492.1 575.7,504.8 530.3,517.5 485,530.2" fill="#067672" />
<polygon points="485,531.7 530.3,518.9 575.7,506.2 621,493.6 666.3,481 711.7,468.4 757,456 757,458.6 711.7,471 666.3,483.6 621,496.2 575.7,508.8 530.3,521.5 485,534.3" fill="#067672" />
<polygon points="485,535.8 530.3,523 575.7,510.3 621,497.6 666.3,485 711.7,472.5 757,460 757,462.6 711.7,475.1 666.3,487.6 621,500.2 575.7,512.9 530.3,525.6 485,538.4" fill="#067672" />
<polygon points="755,448.3 809,433.5 863,418.8 861,432.6 809,446.8 755,461.6" fill="#04615b" />
<polygon points="755,448.4 809,433.6 863,418.9 863,421.5 809,436.2 755,451" fill="#067672" />
<polygon points="755,452.1 809,437.3 863,422.6 863,425.2 809,439.9 755,454.7" fill="#067672" />
<polygon points="755,455.8 809,441 863,426.3 863,428.9 809,443.6 755,458.4" fill="#067672" />
<polygon points="861,419.3 920.5,403.2 980,387.2 978,397.3 920.5,412.8 861,428.9" fill="#04615b" />
<polygon points="861,419.4 920.5,403.3 980,387.3 980,389.9 920.5,405.9 861,422" fill="#067672" />
<polygon points="861,423.1 920.5,407 980,391 980,393.6 920.5,409.6 861,425.7" fill="#067672" />
<polygon points="978,387.7 1014,377.7 1050,367.7 1050,371.3 1014,381.3 978,391.3" fill="#04615b" />
<polygon points="978,387.8 1014,377.8 1050,367.8 1050,369.7 1014,379.7 978,389.7" fill="#067672" />
<ellipse cx="568.7" cy="485.2" rx="3.4" ry="1.7" fill="#cfcfca" />
<ellipse cx="568.2" cy="484.9" rx="2.4" ry="1" fill="#f4f4f0" />
<polygon points="141.6,575.5 141.8,572.6 142.3,569.6 143,566.7 143.9,563.8 145.1,561 146.5,558.5 148.1,556.1 149.8,553.9 151.7,552.1 153.7,550.6 155.7,549.4 157.8,548.6 159.8,548.2 161.9,548.1 163.8,548.5 165.6,549.2 205.2,567.2 206.9,568.3 208.4,569.8 209.8,571.5 210.8,573.6 211.7,576 212.3,578.5 212.7,581.2 212.8,584.1 212.6,587 212.1,590 211.4,592.9 210.5,595.8 209.3,598.6 207.9,601.1 206.3,603.5 204.6,605.7 202.7,607.5 200.7,609 198.7,610.2 196.6,611 194.6,611.4 192.5,611.5 190.6,611.1 188.8,610.4 149.2,592.4 147.5,591.3 146,589.8 144.7,588 143.6,586 142.7,583.6 142.1,581.1 141.7,578.4" fill="url(#g2)" />
<ellipse cx="197" cy="588.8" rx="15" ry="23.2" fill="#0b7d77" transform="rotate(16 197 588.8)" />
<ellipse cx="197.3" cy="588.5" rx="13.4" ry="21.2" fill="#0e8f88" transform="rotate(16 197.3 588.5)" />
<ellipse cx="197.6" cy="588.3" rx="12.2" ry="19.8" fill="#0a6a64" transform="rotate(16 197.6 588.3)" />
<ellipse cx="198" cy="588" rx="10.8" ry="18.2" fill="url(#g3)" transform="rotate(16 198 588)" />
<path d="M186.5,589 L207.5,598.5 L205,603 Q200,608 193,606 Q187,600 186.5,589 Z" fill="#075850"/>
<polygon points="198,610.8 266,592.4 266,585.6 216,599.5 211,602" fill="#04615b" />
<polygon points="216,599.5 266,585.6 266,588.3 212,604.2 211,602" fill="#067672" />
<polygon points="203,606.2 266,589.3 266,590.6 200,609.2" fill="#067672" />
<polygon points="226,592.5 262,583 264,588 228,598" fill="#043f3a" opacity="0.55"/>
<polygon points="240,597.5 270,589.5 271,591.5 241,599.5" fill="#03302c" opacity="0.8"/>
<polygon points="253.7,558.4 267,554 283.5,561.2 271,566.4" fill="#c8960c" />
<polygon points="276.8,569 289,564.7 306.5,572.8 293,576.6" fill="#c8960c" />
<polygon points="293,576.6 306.5,572.8 306.5,587 293,591" fill="#d6a616" />
<polygon points="995.2,337.2 995.3,334.9 995.6,332.6 996.2,330.3 996.9,328.1 997.9,326 999,324 1000.3,322.2 1001.7,320.6 1003.2,319.2 1004.8,318 1006.5,317.2 1008.2,316.6 1009.9,316.3 1011.6,316.3 1013.2,316.6 1014.8,317.2 1055.5,333.6 1056.9,334.5 1058.2,335.6 1059.3,337 1060.3,338.7 1061,340.5 1061.6,342.5 1062,344.6 1062.1,346.8 1062,349.1 1061.7,351.4 1061.1,353.7 1060.4,355.9 1059.4,358 1058.3,360 1057,361.8 1055.6,363.4 1054.1,364.8 1052.5,366 1050.8,366.8 1049.1,367.4 1047.4,367.7 1045.7,367.7 1044.1,367.4 1042.5,366.8 1001.8,350.4 1000.4,349.5 999.1,348.4 998,347 997,345.3 996.2,343.5 995.7,341.5 995.3,339.4" fill="url(#g4)" />
<ellipse cx="1049" cy="350.2" rx="12.6" ry="17.9" fill="#0d8f88" transform="rotate(16 1049 350.2)" />
<ellipse cx="1048.5" cy="350.2" rx="10.6" ry="15.8" fill="url(#g5)" transform="rotate(16 1048.5 350.2)" />
<polygon points="908,375.4 921,371 937.3,378.3 924.3,383" fill="#c8960c" />
<polygon points="930.6,385.8 943.8,381.5 960.7,389.2 947.3,393.4" fill="#c8960c" />
<polygon points="947.3,393.4 960.7,389.2 960.7,404.6 947.3,407.4" fill="#d6a616" />
<path d="M522,188 L522,128 Q522,118 531,122 L560,136 Q569,140 569,151 L570,208" fill="none" stroke="#b9bbb4" stroke-width="9.5" stroke-linecap="butt" stroke-linejoin="round"/>
<path d="M522,188 L522,128 Q522,118 531,122 L560,136 Q569,140 569,151 L570,208" fill="none" stroke="#eeeeea" stroke-width="7.5" stroke-linecap="butt" stroke-linejoin="round"/>
<path d="M524.5,186 L524.5,130" fill="none" stroke="#8f918b" stroke-width="1.2"/>
<path d="M519.6,186 L519.6,128 Q520,119 529,120.5 L561,135" fill="none" stroke="#fbfbf9" stroke-width="2"/>
<path d="M572,206 L571.3,152" fill="none" stroke="#9d9f99" stroke-width="1"/>
<ellipse cx="575.5" cy="343.5" rx="11.5" ry="9" fill="#2a1488" />
<ellipse cx="575.5" cy="342.8" rx="9.6" ry="7.4" fill="#e9e6da" />
<ellipse cx="575.5" cy="341" rx="9.4" ry="6" fill="#c9c5b8" />
<polygon points="589.5,172 625.5,183 598,300 560.5,318 561,296 572,246" fill="url(#g6)" />
<polygon points="603.7,101 641.2,108 626.2,185.5 623,188.5 589,180 587.3,174.4" fill="url(#g7)" />
<ellipse cx="622.6" cy="103.8" rx="19.2" ry="6.2" fill="#2c1688" transform="rotate(10 622.6 103.8)" />
<ellipse cx="623.2" cy="100.8" rx="17" ry="5.2" fill="#452cb0" transform="rotate(10 623.2 100.8)" />
<ellipse cx="623.6" cy="99.2" rx="12.6" ry="3.8" fill="#22106e" transform="rotate(10 623.6 99.2)" />
<polygon points="617,92 632,96 631,102 616,99" fill="#e6e4dc" />
<ellipse cx="623.5" cy="99.5" rx="8" ry="2.6" fill="#f3f2ec" transform="rotate(10 623.5 99.5)" />
<polygon points="610,80 610.1,78.2 610.4,76.4 610.8,74.6 611.4,73 612.2,71.5 613.1,70.1 614.1,68.9 615.2,67.9 616.5,67.1 617.8,66.5 619.1,66.1 620.5,66 621.9,66.1 623.2,66.5 624.5,67.1 636.5,73.4 637.8,74.2 638.9,75.2 639.9,76.4 640.8,77.8 641.6,79.3 642.2,80.9 642.6,82.7 642.9,84.5 643,86.3 642.9,88.1 642.6,89.9 642.2,91.7 641.6,93.3 640.8,94.8 639.9,96.2 638.9,97.4 637.8,98.4 636.5,99.2 635.2,99.8 633.9,100.2 632.5,100.3 631.1,100.2 629.8,99.8 628.5,99.2 616.5,92.9 615.2,92.1 614.1,91.1 613.1,89.9 612.2,88.5 611.4,87 610.8,85.4 610.4,83.6 610.1,81.8" fill="url(#g8)" />
<ellipse cx="632.5" cy="86.3" rx="10.5" ry="14" fill="#2c1688" />
<ellipse cx="632.8" cy="86.5" rx="8.2" ry="11.2" fill="#dccbe2" />
<ellipse cx="633.7" cy="86.9" rx="5.8" ry="8.4" fill="url(#g9)" />
<polygon points="637,81.2 661,89.8 652,99.5 634.5,92.6" fill="url(#g10)" />
<ellipse cx="635.8" cy="86.9" rx="3.4" ry="5.9" fill="#c9b0cf" transform="rotate(-15 635.8 86.9)" />
<polygon points="648.3,94 682.1,110.4 703.6,104.5 703.6,147 700.2,150.6 703.6,154.2 703.6,161.8 650.6,175.4 648.3,167.5 651.8,164 648.3,160.5" fill="url(#g11)" />
<polygon points="650.6,175.4 703.6,161.8 735.2,176.5 735.2,178.6 684.4,195.4 650.6,178.2" fill="#e3d0e8" />
<polygon points="650.6,175.4 703.6,161.8 735.2,176.5 684.4,193.2" fill="#bfa3c6" />
<polygon points="648.3,93 703.6,78.4 735.9,94.2 735.9,96 682.1,112.6 648.3,95.4" fill="#e3d0e8" />
<polygon points="648.3,93 703.6,78.4 735.9,94.2 682.1,110.4" fill="#c8afd0" />
<ellipse cx="721.6" cy="92.3" rx="4.2" ry="2.2" fill="#9d8aa6" />
<ellipse cx="721.9" cy="92.6" rx="3" ry="1.5" fill="#f4f2ee" />
<ellipse cx="683.3" cy="102.7" rx="4.2" ry="2.2" fill="#9d8aa6" />
<ellipse cx="683.6" cy="103" rx="3" ry="1.5" fill="#f4f2ee" />
<ellipse cx="722.8" cy="176.5" rx="4.2" ry="2.2" fill="#9d8aa6" />
<ellipse cx="723.1" cy="176.8" rx="3" ry="1.5" fill="#f4f2ee" />
<ellipse cx="684.4" cy="187.1" rx="4.2" ry="2.2" fill="#9d8aa6" />
<ellipse cx="684.7" cy="187.4" rx="3" ry="1.5" fill="#f4f2ee" />
<line x1="661" y1="101" x2="676" y2="108" stroke="#8d7496" stroke-width="0.8" stroke-dasharray="1.5 1"/>
<line x1="668" y1="116" x2="676" y2="112" stroke="#9a82a2" stroke-width="0.8" />
<path d="M165,430 C172.8,426.5 193.2,415 211.5,408.8 C229.8,402.6 250.3,398.6 274.5,393 C298.7,387.4 328.6,381.2 356.7,375.5 C384.8,369.8 415.8,364.4 443,359 C470.2,353.6 499.3,347.8 520,343 C540.7,338.2 536.2,339.5 567,330.5 C597.8,321.5 676.2,297.8 705,289 C733.8,280.2 723.2,284 740,277.7 C756.8,271.4 787,259.5 806,251.4 C825,243.3 840.2,234.3 854,229 C867.8,223.7 874.2,223.9 889,219.5 C903.8,215.1 924.7,207.6 943,202.7 C961.3,197.8 989.7,192.1 999,190 L1046,208.2 C1037.7,210.5 1010.3,217.8 996,222.2 C981.7,226.6 980.4,228.3 960,234.7 C939.6,241.1 910.2,250.7 873.5,260.6 C836.8,270.5 781.8,283.4 740,294.2 C698.2,305 659.7,314.8 623,325.2 C586.3,335.6 551.6,347.4 520,356.8 C488.4,366.2 460.7,374.7 433.5,381.8 C406.3,388.9 382.3,392.8 356.7,399.2 C331.1,405.6 299.8,414.9 280,420.2 C260.2,425.5 249.8,428.3 238,431.2 C226.2,434.1 213.8,436.6 209,437.7 Z" fill="#055e58" />
<path d="M209,436.5 C213.8,435.4 226.2,432.9 238,430 C249.8,427.1 260.2,424.3 280,419 C299.8,413.7 331.1,404.4 356.7,398 C382.3,391.6 406.3,387.7 433.5,380.6 C460.7,373.5 488.4,365 520,355.6 C551.6,346.2 586.3,334.4 623,324 C659.7,313.6 698.2,303.8 740,293 C781.8,282.2 836.8,269.3 873.5,259.4 C910.2,249.5 939.6,239.9 960,233.5 C980.4,227.1 981.7,225.4 996,221 C1010.3,216.6 1037.7,209.3 1046,207 L1046,210.5 C1037.7,213.1 1010.3,221.2 996,226 C981.7,230.8 993.8,229.2 960,239 C926.2,248.8 829.7,275 793,285 C756.3,295 766.5,291.9 740,299 C713.5,306.1 670.7,316.9 634,327.5 C597.3,338.1 559.8,351.2 520,362.6 C480.2,374 435,385.1 395,396 C355,406.9 306.2,420.7 280,427.8 C253.8,434.9 252.8,435.1 238,438.6 C223.2,442.1 198.8,446.9 191,448.6 Z" fill="#04615b" />
<path d="M209,436.5 C213.8,435.4 226.2,432.9 238,430 C249.8,427.1 260.2,424.3 280,419 C299.8,413.7 331.1,404.4 356.7,398 C382.3,391.6 406.3,387.7 433.5,380.6 C460.7,373.5 488.4,365 520,355.6 C551.6,346.2 586.3,334.4 623,324 C659.7,313.6 698.2,303.8 740,293 C781.8,282.2 836.8,269.3 873.5,259.4 C910.2,249.5 939.6,239.9 960,233.5 C980.4,227.1 981.7,225.4 996,221 C1010.3,216.6 1037.7,209.3 1046,207 L1046,209.7 C1037.7,212 1010.3,219.3 996,223.7 C981.7,228.1 980.4,229.8 960,236.2 C939.6,242.6 910.2,252.2 873.5,262.1 C836.8,272 781.8,284.9 740,295.7 C698.2,306.5 659.7,316.3 623,326.7 C586.3,337.1 551.6,348.9 520,358.3 C488.4,367.7 460.7,376.2 433.5,383.3 C406.3,390.4 382.3,394.3 356.7,400.7 C331.1,407.1 299.8,416.4 280,421.7 C260.2,427 249.8,429.8 238,432.7 C226.2,435.6 213.8,438.1 209,439.2 Z" fill="#067672" />
<path d="M231,375 C239.2,373.8 263.8,370.3 280,368 C296.2,365.7 305.7,364.9 328,361.4 C350.3,357.9 385.3,352.6 414,347 C442.7,341.4 475.4,333.9 500,327.8 C524.6,321.7 541.6,316.5 561.4,310.6 C581.2,304.7 600.5,298.3 619,292.4 C637.5,286.5 655.9,280.7 672.7,275 C689.5,269.3 702.5,265 720,258.4 C737.5,251.8 758.3,243.6 777.6,235.4 C796.9,227.2 822.4,215.4 836,209 C849.6,202.6 855.2,199 859,197 L899,215.5 C897.3,216.4 896.5,217.8 889,221 C881.5,224.2 867.8,228.3 854,234.4 C840.2,240.5 820.3,251 806,257.4 C791.7,263.8 779,268.4 768,272.8 C757,277.2 750.5,280 740,283.7 C729.5,287.4 733.8,286.2 705,295 C676.2,303.8 597.8,327.5 567,336.5 C536.2,345.5 540.7,344.2 520,349 C499.3,353.8 470.2,359.6 443,365 C415.8,370.4 383.9,377.3 356.7,381.5 C329.5,385.7 294.9,388.6 280,390.4 C265.1,392.1 269.2,391.7 267,392 Z" fill="url(#g12)" />
<path d="M280,389.5 C292.8,388 329.5,384.8 356.7,380.6 C383.9,376.4 415.8,369.5 443,364.1 C470.2,358.7 499.3,352.9 520,348.1 C540.7,343.4 536.2,344.6 567,335.6 C597.8,326.6 676.2,302.9 705,294.1 C733.8,285.3 729.5,286.5 740,282.8 C750.5,279.1 757,276.3 768,271.9 C779,267.5 791.7,262.9 806,256.5 C820.3,250.1 840.2,239.6 854,233.5 C867.8,227.4 881.5,223.2 889,220.1 C896.5,216.9 897.3,215.5 899,214.6 L899,216.6 C897.3,217.5 896.5,218.9 889,222.1 C881.5,225.2 867.8,229.4 854,235.5 C840.2,241.6 820.3,252.1 806,258.5 C791.7,264.9 779,269.5 768,273.9 C757,278.3 750.5,281.1 740,284.8 C729.5,288.5 733.8,287.3 705,296.1 C676.2,304.9 597.8,328.6 567,337.6 C536.2,346.6 540.7,345.4 520,350.1 C499.3,354.9 470.2,360.7 443,366.1 C415.8,371.5 383.9,378.4 356.7,382.6 C329.5,386.8 292.8,390 280,391.5 Z" fill="#077a76" />
<polygon points="231,375 267,392 277,391.4 233,374.2" fill="#0a6e68" />
<polygon points="872,224.5 899,213.6 900.5,215.8 889,221.2 878,226" fill="#0c857f" />
<ellipse cx="564.2" cy="323.6" rx="1.6" ry="1.2" fill="#043a36" />
<ellipse cx="567" cy="323.2" rx="1.6" ry="1.2" fill="#14a09a" />
<polygon points="139.4,412.7 139.6,409.8 140.1,406.8 140.8,403.9 141.7,401.1 142.9,398.3 144.3,395.8 145.8,393.4 147.6,391.3 149.4,389.5 151.4,388 153.4,386.8 155.4,386 157.4,385.6 159.4,385.6 161.3,385.9 163.1,386.6 203.1,405.1 204.8,406.2 206.3,407.6 207.6,409.4 208.7,411.4 209.5,413.8 210.2,416.3 210.5,419 210.6,421.8 210.4,424.7 209.9,427.7 209.2,430.6 208.3,433.4 207.1,436.2 205.7,438.7 204.2,441.1 202.4,443.2 200.6,445 198.6,446.5 196.6,447.7 194.6,448.5 192.6,448.9 190.6,448.9 188.7,448.6 186.9,447.9 146.9,429.4 145.2,428.3 143.7,426.9 142.4,425.1 141.3,423.1 140.5,420.8 139.8,418.2 139.5,415.5" fill="url(#g13)" />
<ellipse cx="195" cy="426.5" rx="14.8" ry="23" fill="#0b7d77" transform="rotate(16 195 426.5)" />
<ellipse cx="195.3" cy="426.2" rx="13.2" ry="21" fill="#0e8f88" transform="rotate(16 195.3 426.2)" />
<ellipse cx="195.6" cy="426" rx="12" ry="19.6" fill="#0a6a64" transform="rotate(16 195.6 426)" />
<ellipse cx="196" cy="425.7" rx="10.6" ry="18" fill="url(#g14)" transform="rotate(16 196 425.7)" />
<path d="M184.5,427 L205.5,436.5 L203,441 Q198,446 191,444 Q185,438 184.5,427 Z" fill="#075850"/>
<polygon points="196,448.8 212,445 238,438.6 238,430 209,436.5 201,441" fill="#04615b" />
<polygon points="209,436.5 238,430 238,432.7 206,440 203,440.5" fill="#067672" />
<polygon points="222,436 246,429 247,435 224,441" fill="#053f3a" opacity="0.7"/>
<polygon points="994.9,175.7 995,173.4 995.3,171 995.8,168.7 996.6,166.4 997.6,164.3 998.7,162.3 1000,160.4 1001.5,158.8 1003.1,157.4 1004.8,156.3 1006.6,155.4 1008.4,154.8 1010.2,154.6 1012,154.6 1013.7,154.9 1015.4,155.5 1053,171.5 1054.5,172.5 1055.9,173.7 1057.1,175.1 1058.1,176.8 1059,178.6 1059.6,180.7 1060,182.8 1060.1,185.1 1060,187.4 1059.7,189.8 1059.2,192.1 1058.4,194.3 1057.4,196.5 1056.3,198.5 1055,200.3 1053.5,202 1051.9,203.4 1050.2,204.5 1048.4,205.4 1046.6,206 1044.8,206.2 1043,206.2 1041.3,205.9 1039.7,205.3 1002,189.3 1000.5,188.3 999.1,187.2 997.9,185.7 996.9,184 996,182.2 995.4,180.1 995,177.9" fill="url(#g15)" />
<ellipse cx="1046.3" cy="188.4" rx="13.4" ry="18.2" fill="#0d8f88" transform="rotate(16 1046.3 188.4)" />
<ellipse cx="1045.7" cy="188.4" rx="11.2" ry="16" fill="url(#g16)" transform="rotate(16 1045.7 188.4)" />
<polygon points="943,202.7 956,198.4 972.7,206 960,210.7" fill="#c8960c" />
<polygon points="966.3,212.3 978.3,208.8 996,217 983,222.7" fill="#c8960c" />
<polygon points="983,222.7 996,217 996,228.3 983,232.3" fill="#d6a616" />
<polygon points="512.7,266.4 515.5,261.2 529.9,257.1 563.5,248.7 616.7,262.6 615.3,269.8 555.1,289 512.7,272.2" fill="#7679c6" />
<polygon points="525.6,258.3 563.5,249.2 601.4,260.7 564,277" fill="#6467b0" />
<polygon points="564,277 601.4,260.7 611.4,264 561.1,281.3" fill="#7477c2" />
<polygon points="515.5,261.2 519.9,259.7 560.6,278.9 555.3,280.8" fill="#a0a3ea" />
<polygon points="519.9,259.7 525.6,258.3 564,277 560.6,278.9" fill="#5b5ea6" />
<polygon points="512.7,266.4 515.5,261.2 555.3,280.8 555.1,289 512.7,272.2" fill="#8588d4" />
<polygon points="555.3,280.8 561.1,281.3 611.4,264 616.7,262.6 615.3,269.8 555.1,289" fill="#8d90da" />
<polygon points="601.4,260.7 616.7,262.6 611.4,264" fill="#9b9ee6" />
<ellipse cx="564" cy="260.5" rx="6.2" ry="3.5" fill="#9a9ca6" />
<ellipse cx="564.6" cy="261.1" rx="4.4" ry="2.3" fill="#dedfd6" />
<line x1="572" y1="276.5" x2="580" y2="274" stroke="#6a6db4" stroke-width="0.8" />
<polygon points="313.6,201.5 338.3,202.2 338.3,222 313.6,207.8" fill="#3d4040" />
<polygon points="338.3,202.2 392.6,189.5 393.3,202.2 390.5,205.7 338.3,222" fill="url(#g17)" />
<line x1="338.3" y1="203" x2="338.3" y2="221.5" stroke="#666a68" stroke-width="1" />
<polygon points="308,198 311.5,190.9 369.3,174.3 389.8,174.7 399,178.9 396.2,187.4 392.6,189.5 338.3,202.2 313.6,201.5" fill="url(#g18)" />
<ellipse cx="318.5" cy="197.6" rx="1.6" ry="1" fill="#5a5d5b" />
<ellipse cx="389.5" cy="178.2" rx="1.6" ry="1" fill="#5a5d5b" />
<polygon points="311.6,169.5 314.4,173.8 319.9,173.8 322.6,169.5 322.6,171.9 319.9,174.4 314.4,174.4 311.6,171.9" fill="#b4b6b0" />
<polygon points="311.6,169.5 314.4,173.8 314.4,174.4 311.6,171.9" fill="#8e908b" />
<polygon points="311.6,169.5 314.4,166.4 319.9,166.4 322.6,169.5 319.9,172.1 314.4,172.1" fill="#d4d6d0" />
<ellipse cx="317.1" cy="169.3" rx="2.4" ry="1.5" fill="#9a9c98" />
<ellipse cx="317.8" cy="180" rx="5.6" ry="3" fill="#b9bbb5" />
<ellipse cx="317.8" cy="179.8" rx="3" ry="1.5" fill="#f2f2ee" />
<polygon points="316,218.6 321,218.6 321,232 316,232" fill="url(#g19)" />
<ellipse cx="318.5" cy="218.6" rx="2.5" ry="1.1" fill="#c4c6c0" />
<polygon points="313.4,234.2 316,237.4 321.2,237.4 323.9,234.2 323.9,235.6 321.2,237.7 316,237.7 313.4,235.6" fill="#b4b6b0" />
<polygon points="313.4,234.2 316,237.4 316,237.7 313.4,235.6" fill="#8e908b" />
<polygon points="313.4,234.2 316,231.7 321.2,231.7 323.9,234.2 321.2,236.2 316,236.2" fill="#d4d6d0" />
<polygon points="64.8,365 58.8,372.8 49.6,371 46.4,361.4 52.4,353.6 61.6,355.4" fill="#868883" />
<polygon points="67,364 61,371.8 51.8,370 48.6,360.4 54.6,352.6 63.8,354.4" fill="url(#g20)" />
<ellipse cx="58.4" cy="362.2" rx="5.1" ry="5.6" fill="#979994" />
<ellipse cx="58.6" cy="362.4" rx="2.9" ry="3.3" fill="#b7b9b3" />
<polygon points="73.9,375.6 74,373.7 74.3,371.8 74.7,369.9 75.3,368.2 76.1,366.6 77.1,365.1 78.1,363.9 79.3,362.8 80.6,361.9 81.9,361.3 83.3,360.9 84.7,360.8 86.1,360.9 87.5,361.3 124.8,377.3 126.1,377.9 127.4,378.8 128.6,379.9 129.6,381.1 130.6,382.6 131.3,384.2 132,385.9 132.4,387.8 132.7,389.7 132.8,391.6 132.7,393.5 132.4,395.4 132,397.3 131.3,399 130.6,400.6 129.6,402.1 128.6,403.3 127.4,404.4 126.1,405.3 124.8,405.9 123.4,406.3 122,406.4 120.6,406.3 119.2,405.9 81.9,389.9 80.6,389.3 79.3,388.4 78.1,387.3 77.1,386.1 76.1,384.6 75.3,383 74.7,381.3 74.3,379.4 74,377.5" fill="url(#g21)" />
<line x1="77.1" y1="366.4" x2="114.4" y2="382.4" stroke="#232523" stroke-width="1.3" />
<line x1="75" y1="376.3" x2="112.3" y2="392.3" stroke="#232523" stroke-width="1.3" />
<line x1="78" y1="386.3" x2="115.3" y2="402.3" stroke="#232523" stroke-width="1.3" />
<ellipse cx="122" cy="391.6" rx="10.8" ry="14.8" fill="#3f413f" />
<ellipse cx="121.7" cy="391.6" rx="8.4" ry="11.5" fill="#5d5f5c" />
<ellipse cx="121.4" cy="391.6" rx="6.9" ry="9.5" fill="#3a3c3a" />
<ellipse cx="121" cy="392.1" rx="5.4" ry="7.7" fill="url(#g22)" />
<ellipse cx="125.3" cy="377.5" rx="1.2" ry="1.2" fill="#ffffff" />
<ellipse cx="132.7" cy="393.7" rx="1.2" ry="1.2" fill="#ffffff" />
<ellipse cx="123.5" cy="406.3" rx="1.2" ry="1.2" fill="#ffffff" />
<ellipse cx="81" cy="361.7" rx="1.1" ry="1.1" fill="#ffffff" />
<ellipse cx="73.9" cy="376.1" rx="1.1" ry="1.1" fill="#ffffff" />
<ellipse cx="82.8" cy="390.2" rx="1.1" ry="1.1" fill="#ffffff" />
<polygon points="57.3,522.6 51.5,530.1 42.6,528.4 39.5,519.2 45.3,511.7 54.2,513.4" fill="#868883" />
<polygon points="59.5,521.6 53.7,529.1 44.8,527.4 41.7,518.2 47.5,510.7 56.4,512.4" fill="url(#g23)" />
<ellipse cx="51.2" cy="519.9" rx="4.9" ry="5.4" fill="#979994" />
<ellipse cx="51.4" cy="520.1" rx="2.7" ry="3.1" fill="#b7b9b3" />
<polygon points="71.8,535.7 71.9,533.8 72.2,531.9 72.6,530 73.2,528.3 74,526.7 75,525.2 76,524 77.2,522.9 78.5,522 79.8,521.4 81.2,521 82.6,520.9 84,521 85.4,521.4 119.1,536.6 120.4,537.2 121.7,538.1 122.9,539.2 123.9,540.4 124.9,541.9 125.7,543.5 126.3,545.2 126.7,547.1 127,549 127.1,550.9 127,552.8 126.7,554.7 126.3,556.6 125.7,558.3 124.9,559.9 123.9,561.4 122.9,562.6 121.7,563.7 120.4,564.6 119.1,565.2 117.7,565.6 116.3,565.7 114.9,565.6 113.5,565.2 79.8,550 78.5,549.4 77.2,548.5 76,547.4 75,546.2 74,544.7 73.2,543.1 72.6,541.4 72.2,539.5 71.9,537.6" fill="url(#g24)" />
<line x1="75" y1="526.5" x2="108.7" y2="541.7" stroke="#232523" stroke-width="1.3" />
<line x1="72.9" y1="536.4" x2="106.6" y2="551.6" stroke="#232523" stroke-width="1.3" />
<line x1="75.9" y1="546.4" x2="109.6" y2="561.6" stroke="#232523" stroke-width="1.3" />
<ellipse cx="116.3" cy="550.9" rx="10.8" ry="14.8" fill="#3f413f" />
<ellipse cx="116" cy="550.9" rx="8.4" ry="11.5" fill="#5d5f5c" />
<ellipse cx="115.7" cy="550.9" rx="6.9" ry="9.5" fill="#3a3c3a" />
<ellipse cx="115.3" cy="551.4" rx="5.4" ry="7.7" fill="url(#g25)" />
<ellipse cx="119.6" cy="536.8" rx="1.2" ry="1.2" fill="#ffffff" />
<ellipse cx="127" cy="553" rx="1.2" ry="1.2" fill="#ffffff" />
<ellipse cx="117.8" cy="565.6" rx="1.2" ry="1.2" fill="#ffffff" />
<ellipse cx="78.9" cy="521.8" rx="1.1" ry="1.1" fill="#ffffff" />
<ellipse cx="71.8" cy="536.2" rx="1.1" ry="1.1" fill="#ffffff" />
<ellipse cx="80.7" cy="550.3" rx="1.1" ry="1.1" fill="#ffffff" />
<ellipse cx="241.5" cy="448.8" rx="2.5" ry="5" fill="#8d908a" transform="rotate(23.6 241.5 448.8)" />
<polygon points="243.5,444.2 259.3,451.1 255.3,460.3 239.5,453.4" fill="url(#g27)" />
<polygon points="259.3,451.1 297.3,467.7 293.3,476.8 255.3,460.3" fill="url(#g26)" />
<line x1="243.9" y1="445.8" x2="243.5" y2="452.7" stroke="#6f726d" stroke-width="1" opacity="0.8"/>
<line x1="246.8" y1="447" x2="246.5" y2="454" stroke="#6f726d" stroke-width="1" opacity="0.8"/>
<line x1="249.8" y1="448.3" x2="249.4" y2="455.2" stroke="#6f726d" stroke-width="1" opacity="0.8"/>
<line x1="252.7" y1="449.6" x2="252.3" y2="456.5" stroke="#6f726d" stroke-width="1" opacity="0.8"/>
<line x1="255.6" y1="450.9" x2="255.3" y2="457.8" stroke="#6f726d" stroke-width="1" opacity="0.8"/>
<polygon points="287.9,474 291.1,465.4 299.6,464.1 303.2,465.7 308.5,473 305.3,481.6 296.8,482.9 293.2,481.4" fill="url(#g28)" />
<polygon points="308.5,473 305.3,481.6 296.8,482.9 291.5,475.6 294.7,467 303.2,465.7" fill="url(#g29)" />
<ellipse cx="315.5" cy="645.2" rx="2.5" ry="5" fill="#8d908a" transform="rotate(22.6 315.5 645.2)" />
<polygon points="317.4,640.6 333.2,647.1 329.4,656.4 313.6,649.8" fill="url(#g31)" />
<polygon points="333.2,647.1 371.2,662.9 367.4,672.2 329.4,656.4" fill="url(#g30)" />
<line x1="317.9" y1="642.1" x2="317.6" y2="649" stroke="#6f726d" stroke-width="1" opacity="0.8"/>
<line x1="320.8" y1="643.3" x2="320.5" y2="650.3" stroke="#6f726d" stroke-width="1" opacity="0.8"/>
<line x1="323.8" y1="644.6" x2="323.5" y2="651.5" stroke="#6f726d" stroke-width="1" opacity="0.8"/>
<line x1="326.7" y1="645.8" x2="326.5" y2="652.7" stroke="#6f726d" stroke-width="1" opacity="0.8"/>
<line x1="329.7" y1="647" x2="329.4" y2="654" stroke="#6f726d" stroke-width="1" opacity="0.8"/>
<polygon points="361.9,669.3 365.1,660.7 373.6,659.4 377.2,660.9 382.5,668.2 379.3,676.8 370.8,678.1 367.2,676.6" fill="url(#g32)" />
<polygon points="382.5,668.2 379.3,676.8 370.8,678.1 365.5,670.8 368.7,662.2 377.2,660.9" fill="url(#g33)" />
<ellipse cx="244.4" cy="611.6" rx="9.8" ry="11.6" fill="#767874" transform="rotate(-12 244.4 611.6)" />
<ellipse cx="245.7" cy="610.7" rx="9.8" ry="11.6" fill="url(#g34)" transform="rotate(-12 245.7 610.7)" />
<ellipse cx="246.2" cy="610.4" rx="5" ry="5.9" fill="#6e706c" transform="rotate(-12 246.2 610.4)" />
<ellipse cx="247" cy="610.1" rx="4.3" ry="5.3" fill="#ffffff" transform="rotate(-12 247 610.1)" />
<ellipse cx="270.1" cy="623.5" rx="13.2" ry="15.6" fill="#767874" transform="rotate(-12 270.1 623.5)" />
<ellipse cx="271.4" cy="622.6" rx="13.2" ry="15.6" fill="url(#g35)" transform="rotate(-12 271.4 622.6)" />
<ellipse cx="271.9" cy="622.4" rx="4.8" ry="5.7" fill="#6e706c" transform="rotate(-12 271.9 622.4)" />
<ellipse cx="272.7" cy="622.1" rx="4.2" ry="5.1" fill="#ffffff" transform="rotate(-12 272.7 622.1)" />
<ellipse cx="295.7" cy="635.6" rx="13.4" ry="15.6" fill="#767874" transform="rotate(-12 295.7 635.6)" />
<ellipse cx="297" cy="634.7" rx="13.4" ry="15.6" fill="url(#g36)" transform="rotate(-12 297 634.7)" />
<ellipse cx="296.8" cy="634.7" rx="4.4" ry="5.3" fill="#6e706c" transform="rotate(-12 296.8 634.7)" />
<ellipse cx="297.6" cy="634.4" rx="3.8" ry="4.7" fill="#ffffff" transform="rotate(-12 297.6 634.4)" />
<polygon points="557.2,295.6 561.2,301.9 569.2,301.9 573.2,295.6 573.2,299.8 569.2,303.4 561.2,303.4 557.2,299.8" fill="#b4b6b0" />
<polygon points="557.2,295.6 561.2,301.9 561.2,303.4 557.2,299.8" fill="#8e908b" />
<polygon points="557.2,295.6 561.2,291.4 569.2,291.4 573.2,295.6 569.2,299.3 561.2,299.3" fill="#d4d6d0" />
<ellipse cx="565.2" cy="295.4" rx="3.5" ry="2.1" fill="#9c9e99" />
<polygon points="561.8,361.5 570.7,361.5 570.7,384 561.8,384" fill="url(#g37)" />
<ellipse cx="566.2" cy="361.5" rx="4.5" ry="1.7" fill="#b5b7b1" />
<line x1="562" y1="364" x2="570.5" y2="364.8" stroke="#7a7c77" stroke-width="0.8" />
<line x1="562" y1="366.2" x2="570.5" y2="367" stroke="#7a7c77" stroke-width="0.8" />
<line x1="562" y1="368.4" x2="570.5" y2="369.2" stroke="#7a7c77" stroke-width="0.8" />
<line x1="562" y1="370.6" x2="570.5" y2="371.4" stroke="#7a7c77" stroke-width="0.8" />
<line x1="562" y1="372.8" x2="570.5" y2="373.6" stroke="#7a7c77" stroke-width="0.8" />
<line x1="562" y1="375" x2="570.5" y2="375.8" stroke="#7a7c77" stroke-width="0.8" />
<line x1="562" y1="377.2" x2="570.5" y2="378" stroke="#7a7c77" stroke-width="0.8" />
<line x1="562" y1="379.4" x2="570.5" y2="380.2" stroke="#7a7c77" stroke-width="0.8" />
<line x1="562" y1="381.6" x2="570.5" y2="382.4" stroke="#7a7c77" stroke-width="0.8" />
<polygon points="558.8,388.2 562.9,393.4 571.1,393.4 575.2,388.2 575.2,391.4 571.1,394.6 562.9,394.6 558.8,391.4" fill="#b4b6b0" />
<polygon points="558.8,388.2 562.9,393.4 562.9,394.6 558.8,391.4" fill="#8e908b" />
<polygon points="558.8,388.2 562.9,384.6 571.1,384.6 575.2,388.2 571.1,391.3 562.9,391.3" fill="#d4d6d0" />
<ellipse cx="522.7" cy="212.3" rx="6.6" ry="3.5" fill="#b4b6b0" />
<ellipse cx="522.9" cy="212.1" rx="3.6" ry="1.7" fill="#f6f6f2" />
<polygon points="515.7,231.1 519.2,236.6 526.2,236.6 529.7,231.1 529.7,234.6 526.2,237.8 519.2,237.8 515.7,234.6" fill="#b4b6b0" />
<polygon points="515.7,231.1 519.2,236.6 519.2,237.8 515.7,234.6" fill="#8e908b" />
<polygon points="515.7,231.1 519.2,227.3 526.2,227.3 529.7,231.1 526.2,234.3 519.2,234.3" fill="#d4d6d0" />
<ellipse cx="522.7" cy="230.9" rx="3.1" ry="1.9" fill="#9c9e99" />
<path d="M792.3,132.7 L796.8,127.2 L803.6,125.3 L808.4,127.2 L810.3,132.7 L810.3,161.5 L806,165.5 L798.8,167.2 L794,164.6 L792.3,159.1 L795.9,151.9 L791.6,144Z" fill="#d9dbaa" stroke="#b8ba90" stroke-width="0.6" stroke-linejoin="round"/>
<ellipse cx="800" cy="135.6" rx="1.9" ry="2.1" fill="#ffffff" />
<ellipse cx="801.2" cy="158.3" rx="1.9" ry="2.1" fill="#ffffff" />
<ellipse cx="846.7" cy="120" rx="7" ry="6" fill="#b3b58e" />
<polygon points="809.5,144.7 827.5,145.9 829.9,151.9 811.9,155.5" fill="#a9ab84" />
<polygon points="833.5,153.1 841.9,155.5 841.9,158.3 834.2,156.7" fill="#a9ab84" />
<polygon points="834.7,116.6 837.6,114.7 841.9,115.9 895.1,154.5 889.8,155.9 835.9,130.3" fill="#c9cb9d" />
<polygon points="837.6,114.7 841.9,115.9 895.1,154.5 892.7,155" fill="#f1f2c9" />
<polygon points="806,124.8 819.1,129.6 835.9,127.2 891,155.5 870.7,161.7 864.7,164.6 841.9,157.4 808.4,141.6" fill="#e4e5b4" />
<polygon points="819.1,129.6 835.9,127.2 891,155.5 882.7,157.4 849.1,141.1" fill="#d3d5a6" />
<polygon points="806,124.8 808.4,123.8 865.9,160.7 864.7,164.6" fill="#f1f2c9" />
<polygon points="806,136.3 808.4,135.8 862.3,160.7 864.7,164.6 841.9,157.4 808.4,141.6" fill="#cfd1a2" />
<polygon points="806,135.8 807.9,133.9 864,160.7 862.3,162.7" fill="#f1f2c9" />
<path d="M864.7,164.6 Q875.5,156.7 895.1,154.5 L891,155.5 Q877.9,155.5 864,160.7 Z" fill="#f1f2c9"/>
<ellipse cx="863.5" cy="147.8" rx="4.6" ry="2.4" fill="#9fa183" />
<ellipse cx="864" cy="148" rx="3.2" ry="1.5" fill="#f3f3ea" />
<polygon points="859.2,167 868.8,167 868.8,186 859.2,186" fill="url(#g38)" />
<ellipse cx="864" cy="167" rx="4.8" ry="1.8" fill="#b9bbb5" />
<line x1="859.4" y1="169.5" x2="868.6" y2="170.3" stroke="#7b7d78" stroke-width="0.8" />
<line x1="859.4" y1="171.8" x2="868.6" y2="172.6" stroke="#7b7d78" stroke-width="0.8" />
<line x1="859.4" y1="174.1" x2="868.6" y2="174.9" stroke="#7b7d78" stroke-width="0.8" />
<line x1="859.4" y1="176.4" x2="868.6" y2="177.2" stroke="#7b7d78" stroke-width="0.8" />
<line x1="859.4" y1="178.7" x2="868.6" y2="179.5" stroke="#7b7d78" stroke-width="0.8" />
<line x1="859.4" y1="181" x2="868.6" y2="181.8" stroke="#7b7d78" stroke-width="0.8" />
<line x1="859.4" y1="183.3" x2="868.6" y2="184.1" stroke="#7b7d78" stroke-width="0.8" />
<polygon points="824.7,190.4 825,188 825.6,185.8 826.7,183.6 828,181.6 829.7,179.8 831.7,178.2 833.9,176.9 836.4,175.8 839,175.1 841.7,174.6 844.5,174.4 847.4,174.6 850.2,175 853,175.7 855.7,176.8 889.7,191.8 892.4,193.1 894.8,194.6 897,196.3 898.9,198.2 900.5,200.3 901.8,202.4 902.6,204.7 903.1,206.9 903.3,209.2 903,211.4 902.3,213.5 901.3,215.5 899.9,217.4 898.2,219.1 896.2,220.5 893.9,221.7 891.4,222.7 888.7,223.4 885.8,223.8 882.9,223.9 879.9,223.7 877,223.2 874.1,222.5 871.3,221.4 840,209.5 837.3,208.4 834.8,207.1 832.5,205.6 830.4,203.8 828.6,201.8 827.1,199.7 826,197.4 825.2,195.1 824.8,192.7" fill="url(#g39)" />
<ellipse cx="880.5" cy="206.6" rx="23" ry="17" fill="#5a5c59" transform="rotate(12 880.5 206.6)" />
<ellipse cx="881.3" cy="206.9" rx="21.9" ry="16.1" fill="#444645" transform="rotate(12 881.3 206.9)" />
<polygon points="905.7,78.7 899.7,86.5 890.5,84.7 887.3,75.1 893.3,67.3 902.5,69.1" fill="#868883" />
<polygon points="907.9,77.7 901.9,85.5 892.7,83.7 889.5,74.1 895.5,66.3 904.7,68.1" fill="url(#g40)" />
<ellipse cx="899.3" cy="75.9" rx="5.1" ry="5.6" fill="#979994" />
<ellipse cx="899.5" cy="76.1" rx="2.9" ry="3.3" fill="#b7b9b3" />
<ellipse cx="915.4" cy="85.2" rx="7.4" ry="9.6" fill="#767874" transform="rotate(-15 915.4 85.2)" />
<ellipse cx="916.7" cy="84.3" rx="7.4" ry="9.6" fill="url(#g41)" transform="rotate(-15 916.7 84.3)" />
<ellipse cx="916.9" cy="84.2" rx="4" ry="4.8" fill="#6e706c" transform="rotate(-15 916.9 84.2)" />
<ellipse cx="917.7" cy="83.9" rx="3.5" ry="4.3" fill="#ffffff" transform="rotate(-15 917.7 83.9)" />
<polygon points="855,104.7 859.5,111.4 868.5,111.4 873,104.7 873,109.3 868.5,113.2 859.5,113.2 855,109.3" fill="#b4b6b0" />
<polygon points="855,104.7 859.5,111.4 859.5,113.2 855,109.3" fill="#8e908b" />
<polygon points="855,104.7 859.5,100.2 868.5,100.2 873,104.7 868.5,108.6 859.5,108.6" fill="#d4d6d0" />
<ellipse cx="864" cy="104.5" rx="4" ry="2.2" fill="#a2a49f" />
<polygon points="898.8,130.9 895.7,134.9 891,134 889.4,129.1 892.5,125.1 897.2,126" fill="#868883" />
<polygon points="901,129.9 897.9,133.9 893.2,133 891.6,128.1 894.7,124.1 899.4,125" fill="url(#g42)" />
<ellipse cx="896.9" cy="129" rx="2.6" ry="2.9" fill="#979994" />
<ellipse cx="897.1" cy="129.2" rx="1.5" ry="1.7" fill="#b7b9b3" />
<ellipse cx="906" cy="134.9" rx="4.4" ry="5.4" fill="#767874" transform="rotate(-15 906 134.9)" />
<ellipse cx="907.3" cy="134" rx="4.4" ry="5.4" fill="url(#g43)" transform="rotate(-15 907.3 134)" />
<ellipse cx="907.5" cy="134" rx="2.2" ry="2.6" fill="#6e706c" transform="rotate(-15 907.5 134)" />
<ellipse cx="908.3" cy="133.7" rx="1.9" ry="2.4" fill="#ffffff" transform="rotate(-15 908.3 133.7)" />
<ellipse cx="934.5" cy="146.3" rx="1.2" ry="2.5" fill="#8d908a" transform="rotate(24.4 934.5 146.3)" />
<polygon points="935.5,144 942,147 940,151.5 933.5,148.6" fill="url(#g45)" />
<polygon points="942,147 945.8,148.7 943.8,153.2 940,151.5" fill="url(#g44)" />
<line x1="936.2" y1="145" x2="937" y2="149" stroke="#6f726d" stroke-width="1" opacity="0.8"/>
<line x1="939.1" y1="146.3" x2="939.9" y2="150.3" stroke="#6f726d" stroke-width="1" opacity="0.8"/>
<polygon points="940.5,152 942.4,147 947.3,146.3 949.4,147.2 952.4,151.4 950.6,156.5 945.6,157.2 943.6,156.3" fill="url(#g46)" />
<polygon points="952.4,151.4 950.6,156.5 945.6,157.2 942.6,153 944.4,147.9 949.4,147.2" fill="url(#g47)" />
<polygon points="926.5,96.7 938.1,96.7 948.7,100.9 963.5,99.8 972,93.1 983.6,93.5 983.6,81.9 993.1,76.6 1017.5,105.1 1015.3,108.3 1017.7,123.1 1019.8,134.1 1015.3,132 1007.9,140.1 997.4,142.6 988.9,143.4 925.4,134.1 923.7,142.2 920.5,145.6 918,141.1 921.2,129.5 916.9,123.1 921.2,114.7" fill="#8d4a47" />
<polygon points="926.5,97.3 938.1,97.7 937,103 933.9,129.5 924.3,131.6 922.2,123.1" fill="#7a3e3c" />
<polygon points="937,103 948.7,104.1 948.7,129.5 934.9,129.5" fill="#8a4745" />
<polygon points="948.7,106.2 958.2,108.3 958.2,126.3 948.7,131.6" fill="#743a38" />
<polygon points="930.7,113.6 936,113.6 935.6,128.4 930.7,128.4" fill="#9a6866" opacity="0.7"/>
<polygon points="926.5,96.7 938.1,96.7 948.7,100.9 963.5,99.8 988.9,110.4 961.4,107.2 948.7,104.1 937,103" fill="#a55f5a" />
<polygon points="948.7,100.9 963.5,99.8 984.7,109.4 961.4,106.6" fill="#703634" />
<polygon points="983.6,93.5 983.6,81.9 993.1,76.6 1017.5,105.1 1010.1,108.3 993.1,93.5" fill="#98524e" />
<polygon points="983.6,81.9 993.1,76.6 994.2,85.4 984.7,89.7" fill="#a96460" />
<polygon points="984.7,89.7 994.2,85.4 1014.3,106.6 1010.1,108.7" fill="#8a4644" />
<polygon points="963.5,99.8 972,93.1 983.6,93.5 1005.8,105.1 1010.1,140.1 997.4,142.6 988.9,143.4 960.3,127.4 958.2,114.7" fill="url(#g48)" />
<polygon points="925.4,131.2 960.3,126.3 991,142.2 988.9,143.4 925.4,134.1" fill="#9c5753" />
<ellipse cx="1003.7" cy="123.1" rx="14.3" ry="17.7" fill="#7e3f3d" transform="rotate(8 1003.7 123.1)" />
<ellipse cx="1003.3" cy="123.1" rx="13.4" ry="16.8" fill="#9a5450" transform="rotate(8 1003.3 123.1)" />
<ellipse cx="1003.9" cy="123.1" rx="11.3" ry="14.5" fill="url(#g49)" transform="rotate(8 1003.9 123.1)" />
<ellipse cx="921.6" cy="123.1" rx="1.3" ry="1.5" fill="#ffffff" />
<ellipse cx="921.2" cy="141.1" rx="1.3" ry="1.5" fill="#ffffff" />
<polygon points="1051.8,152.4 1051.9,150.5 1052.2,148.6 1052.6,146.7 1053.2,145 1054,143.4 1055,141.9 1056,140.7 1057.2,139.6 1058.5,138.7 1059.8,138.1 1061.2,137.7 1062.6,137.6 1064,137.7 1065.4,138.1 1102,154.8 1103.3,155.4 1104.6,156.3 1105.8,157.4 1106.8,158.6 1107.8,160.1 1108.5,161.7 1109.2,163.4 1109.6,165.3 1109.9,167.2 1110,169.1 1109.9,171 1109.6,172.9 1109.2,174.8 1108.5,176.5 1107.8,178.1 1106.8,179.6 1105.8,180.8 1104.6,181.9 1103.3,182.8 1102,183.4 1100.6,183.8 1099.2,183.9 1097.8,183.8 1096.4,183.4 1059.8,166.7 1058.5,166.1 1057.2,165.2 1056,164.1 1055,162.9 1054,161.4 1053.2,159.8 1052.6,158.1 1052.2,156.2 1051.9,154.3" fill="url(#g50)" />
<line x1="1055" y1="143.2" x2="1091.6" y2="159.9" stroke="#232523" stroke-width="1.3" />
<line x1="1052.9" y1="153.1" x2="1089.5" y2="169.8" stroke="#232523" stroke-width="1.3" />
<line x1="1055.9" y1="163.1" x2="1092.5" y2="179.8" stroke="#232523" stroke-width="1.3" />
<ellipse cx="1099.2" cy="169.1" rx="10.8" ry="14.8" fill="#3f413f" />
<ellipse cx="1098.9" cy="169.1" rx="8.4" ry="11.5" fill="#5d5f5c" />
<ellipse cx="1098.6" cy="169.1" rx="6.9" ry="9.5" fill="#3a3c3a" />
<ellipse cx="1098.2" cy="169.6" rx="5.4" ry="7.7" fill="url(#g51)" />
<ellipse cx="1102.5" cy="155" rx="1.2" ry="1.2" fill="#ffffff" />
<ellipse cx="1109.9" cy="171.2" rx="1.2" ry="1.2" fill="#ffffff" />
<ellipse cx="1100.7" cy="183.8" rx="1.2" ry="1.2" fill="#ffffff" />
<ellipse cx="1058.9" cy="138.5" rx="1.1" ry="1.1" fill="#ffffff" />
<ellipse cx="1051.8" cy="152.9" rx="1.1" ry="1.1" fill="#ffffff" />
<ellipse cx="1060.7" cy="167" rx="1.1" ry="1.1" fill="#ffffff" />
<polygon points="1070.1,208.8 1070.2,206.9 1070.5,205 1070.9,203.1 1071.5,201.4 1072.3,199.8 1073.3,198.3 1074.3,197.1 1075.5,196 1076.8,195.1 1078.1,194.5 1079.5,194.1 1080.9,194 1082.3,194.1 1083.7,194.5 1119,210 1120.3,210.6 1121.6,211.5 1122.8,212.6 1123.8,213.8 1124.8,215.3 1125.5,216.9 1126.2,218.6 1126.6,220.5 1126.9,222.4 1127,224.3 1126.9,226.2 1126.6,228.1 1126.2,230 1125.5,231.7 1124.8,233.3 1123.8,234.8 1122.8,236 1121.6,237.1 1120.3,238 1119,238.6 1117.6,239 1116.2,239.1 1114.8,239 1113.4,238.6 1078.1,223.1 1076.8,222.5 1075.5,221.6 1074.3,220.5 1073.3,219.3 1072.3,217.8 1071.5,216.2 1070.9,214.5 1070.5,212.6 1070.2,210.7" fill="url(#g52)" />
<line x1="1073.3" y1="199.6" x2="1108.6" y2="215.1" stroke="#232523" stroke-width="1.3" />
<line x1="1071.2" y1="209.5" x2="1106.5" y2="225" stroke="#232523" stroke-width="1.3" />
<line x1="1074.2" y1="219.5" x2="1109.5" y2="235" stroke="#232523" stroke-width="1.3" />
<ellipse cx="1116.2" cy="224.3" rx="10.8" ry="14.8" fill="#3f413f" />
<ellipse cx="1115.9" cy="224.3" rx="8.4" ry="11.5" fill="#5d5f5c" />
<ellipse cx="1115.6" cy="224.3" rx="6.9" ry="9.5" fill="#3a3c3a" />
<ellipse cx="1115.2" cy="224.8" rx="5.4" ry="7.7" fill="url(#g53)" />
<ellipse cx="1119.5" cy="210.2" rx="1.2" ry="1.2" fill="#ffffff" />
<ellipse cx="1126.9" cy="226.4" rx="1.2" ry="1.2" fill="#ffffff" />
<ellipse cx="1117.7" cy="239" rx="1.2" ry="1.2" fill="#ffffff" />
<ellipse cx="1077.2" cy="194.9" rx="1.1" ry="1.1" fill="#ffffff" />
<ellipse cx="1070.1" cy="209.3" rx="1.1" ry="1.1" fill="#ffffff" />
<ellipse cx="1079" cy="223.4" rx="1.1" ry="1.1" fill="#ffffff" />
<path d="M1113.2,176.5 L1126.4,168.2 Q1128.2,167.4 1129,169.2 L1152.4,234.6 Q1153,236.6 1151.4,237.8 L1138,245.8 Q1135.8,246.8 1134.8,244.6 L1112,179.4 Q1111.4,177.6 1113.2,176.5 Z" fill="#d6dedd" stroke="#bcc6c4" stroke-width="0.8"/>
<ellipse cx="1122.4" cy="179.8" rx="3.6" ry="4.6" fill="#ffffff" transform="rotate(-25 1122.4 179.8)" />
<ellipse cx="1141.3" cy="234.6" rx="3.6" ry="4.6" fill="#ffffff" transform="rotate(-25 1141.3 234.6)" />
<line x1="1133" y1="190" x2="1136" y2="197" stroke="#a9b1af" stroke-width="1" stroke-dasharray="1.2 1"/>
<ellipse cx="1149.5" cy="194.5" rx="2.5" ry="5" fill="#8d908a" transform="rotate(22.7 1149.5 194.5)" />
<polygon points="1151.4,189.9 1167.8,196.7 1164,206 1147.6,199.1" fill="url(#g55)" />
<polygon points="1167.8,196.7 1207.4,213.3 1203.6,222.5 1164,206" fill="url(#g54)" />
<line x1="1151.9" y1="191.4" x2="1151.6" y2="198.3" stroke="#6f726d" stroke-width="1" opacity="0.8"/>
<line x1="1154.8" y1="192.7" x2="1154.5" y2="199.6" stroke="#6f726d" stroke-width="1" opacity="0.8"/>
<line x1="1157.8" y1="193.9" x2="1157.5" y2="200.8" stroke="#6f726d" stroke-width="1" opacity="0.8"/>
<line x1="1160.7" y1="195.1" x2="1160.4" y2="202.1" stroke="#6f726d" stroke-width="1" opacity="0.8"/>
<line x1="1163.7" y1="196.4" x2="1163.4" y2="203.3" stroke="#6f726d" stroke-width="1" opacity="0.8"/>
<polygon points="1198.1,219.7 1201.3,211.1 1209.8,209.8 1213.4,211.3 1218.7,218.6 1215.5,227.2 1207,228.5 1203.4,227" fill="url(#g56)" />
<polygon points="1218.7,218.6 1215.5,227.2 1207,228.5 1201.7,221.2 1204.9,212.6 1213.4,211.3" fill="url(#g57)" />
<ellipse cx="1163.7" cy="246.1" rx="2.5" ry="5" fill="#8d908a" transform="rotate(22.9 1163.7 246.1)" />
<polygon points="1165.6,241.5 1181.9,248.4 1178,257.6 1161.8,250.7" fill="url(#g59)" />
<polygon points="1181.9,248.4 1221,264.9 1217.1,274.1 1178,257.6" fill="url(#g58)" />
<line x1="1166.1" y1="243" x2="1165.8" y2="250" stroke="#6f726d" stroke-width="1" opacity="0.8"/>
<line x1="1169" y1="244.3" x2="1168.7" y2="251.2" stroke="#6f726d" stroke-width="1" opacity="0.8"/>
<line x1="1172" y1="245.5" x2="1171.7" y2="252.4" stroke="#6f726d" stroke-width="1" opacity="0.8"/>
<line x1="1174.9" y1="246.8" x2="1174.6" y2="253.7" stroke="#6f726d" stroke-width="1" opacity="0.8"/>
<line x1="1177.9" y1="248" x2="1177.6" y2="254.9" stroke="#6f726d" stroke-width="1" opacity="0.8"/>
<polygon points="1211.7,271.3 1214.9,262.6 1223.4,261.4 1227,262.9 1232.3,270.2 1229.1,278.8 1220.6,280.1 1217,278.6" fill="url(#g60)" />
<polygon points="1232.3,270.2 1229.1,278.8 1220.6,280.1 1215.3,272.8 1218.5,264.2 1227,262.9" fill="url(#g61)" />
<text x="629.3" y="33.6" font-size="17.2" text-anchor="middle" >16</text>
<line x1="629.8" y1="38.5" x2="629.8" y2="72" stroke="#2b2b2b" stroke-width="1.3" />
<text x="680.2" y="33.6" font-size="17.2" text-anchor="middle" >17</text>
<line x1="679.9" y1="38.5" x2="679.9" y2="82.4" stroke="#2b2b2b" stroke-width="1.3" />
<text x="984.7" y="53.6" font-size="17.2" text-anchor="middle" >20</text>
<line x1="984.7" y1="58.6" x2="984.7" y2="82" stroke="#2b2b2b" stroke-width="1.3" />
<text x="1093.8" y="128.4" font-size="17.2" text-anchor="middle" >4</text>
<line x1="1094.4" y1="133.3" x2="1094.4" y2="152.5" stroke="#2b2b2b" stroke-width="1.3" />
<text x="1124.8" y="128.4" font-size="17.2" text-anchor="middle" >22</text>
<line x1="1125.2" y1="133.3" x2="1125.2" y2="167.7" stroke="#2b2b2b" stroke-width="1.3" />
<text x="990" y="273.6" font-size="17.2" text-anchor="middle" >23</text>
<line x1="990" y1="228.5" x2="990" y2="254" stroke="#2b2b2b" stroke-width="1.3" />
<text x="705" y="343.4" font-size="17.2" text-anchor="middle" >26</text>
<line x1="705" y1="293.5" x2="705" y2="322.5" stroke="#2b2b2b" stroke-width="1.3" />
<text x="735" y="343.4" font-size="17.2" text-anchor="middle" >25</text>
<line x1="734.6" y1="293.5" x2="734.6" y2="322.5" stroke="#2b2b2b" stroke-width="1.3" />
<text x="764.8" y="343.4" font-size="17.2" text-anchor="middle" >24</text>
<line x1="764.4" y1="293.5" x2="764.4" y2="322.5" stroke="#2b2b2b" stroke-width="1.3" />
<text x="705" y="522.6" font-size="17.2" text-anchor="middle" >27</text>
<line x1="704.7" y1="479" x2="704.7" y2="501.5" stroke="#2b2b2b" stroke-width="1.3" />
<text x="765" y="203.4" font-size="17.2" text-anchor="middle" >18</text>
<line x1="780" y1="197.6" x2="826" y2="197.6" stroke="#2b2b2b" stroke-width="1.3" />
<text x="279.5" y="173.3" font-size="17.2" text-anchor="middle" >9</text>
<line x1="289.6" y1="167.6" x2="313" y2="169.8" stroke="#2b2b2b" stroke-width="1.3" />
<text x="279.5" y="193" font-size="17.2" text-anchor="middle" >8</text>
<line x1="289.6" y1="187.8" x2="312.2" y2="180.8" stroke="#2b2b2b" stroke-width="1.3" />
<text x="279.5" y="212.7" font-size="17.2" text-anchor="middle" >7</text>
<line x1="289.6" y1="207.8" x2="313.6" y2="207.8" stroke="#2b2b2b" stroke-width="1.3" />
<text x="279.5" y="233.1" font-size="17.2" text-anchor="middle" >6</text>
<line x1="289.6" y1="227.9" x2="314.3" y2="227.9" stroke="#2b2b2b" stroke-width="1.3" />
<text x="480.3" y="187.9" font-size="17.2" text-anchor="middle" >15</text>
<line x1="495" y1="182.8" x2="519" y2="182.8" stroke="#2b2b2b" stroke-width="1.3" />
<text x="480.3" y="212.7" font-size="17.2" text-anchor="middle" >14</text>
<line x1="495" y1="207.8" x2="518.2" y2="211" stroke="#2b2b2b" stroke-width="1.3" />
<text x="480.3" y="237.7" font-size="17.2" text-anchor="middle" >13</text>
<line x1="495" y1="232.6" x2="515.3" y2="232.6" stroke="#2b2b2b" stroke-width="1.3" />
<text x="480" y="273.3" font-size="17.2" text-anchor="middle" >12</text>
<line x1="495" y1="267.9" x2="514.3" y2="267.9" stroke="#2b2b2b" stroke-width="1.3" />
<text x="519.9" y="302.9" font-size="17.2" text-anchor="middle" >10</text>
<line x1="535.2" y1="297.8" x2="556.3" y2="297.8" stroke="#2b2b2b" stroke-width="1.3" />
<text x="519.9" y="387.8" font-size="17.2" text-anchor="middle" >11</text>
<line x1="535.2" y1="382.7" x2="560" y2="382.7" stroke="#2b2b2b" stroke-width="1.3" />
<text x="25.8" y="398.3" font-size="17.2" text-anchor="middle" >5</text>
<line x1="30.8" y1="383.3" x2="45.9" y2="363.9" stroke="#2b2b2b" stroke-width="1.3" />
<text x="73.4" y="421" font-size="17.2" text-anchor="middle" >4</text>
<line x1="77.3" y1="406.2" x2="86.3" y2="393.9" stroke="#2b2b2b" stroke-width="1.3" />
<text x="20.2" y="558.9" font-size="17.2" text-anchor="middle" >5</text>
<line x1="25.3" y1="544.8" x2="40.4" y2="523.9" stroke="#2b2b2b" stroke-width="1.3" />
<text x="67.4" y="581.3" font-size="17.2" text-anchor="middle" >4</text>
<line x1="71.8" y1="567.7" x2="82.6" y2="551.9" stroke="#2b2b2b" stroke-width="1.3" />
<text x="246" y="498.3" font-size="17.2" text-anchor="middle" >1</text>
<line x1="251" y1="481" x2="264" y2="465.8" stroke="#2b2b2b" stroke-width="1.3" />
<text x="321.9" y="700.3" font-size="17.2" text-anchor="middle" >1</text>
<line x1="326.3" y1="683" x2="340.4" y2="664.8" stroke="#2b2b2b" stroke-width="1.3" />
<rect x="0" y="0" width="1251" height="709" fill="#33837f" mask="url(#wm0)"/>
<rect x="0" y="0" width="1251" height="709" fill="#33837f" mask="url(#wm1)"/>
</svg>
</body></html>
